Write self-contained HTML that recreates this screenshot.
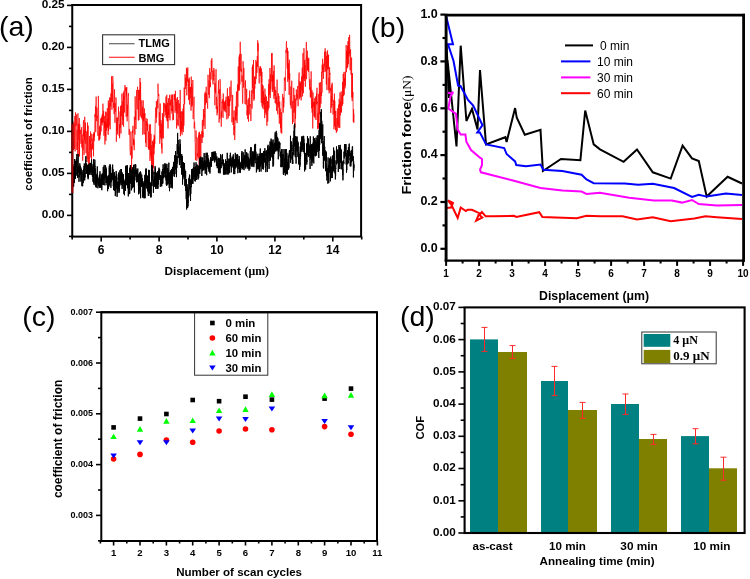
<!DOCTYPE html>
<html><head><meta charset="utf-8"><style>
html,body{margin:0;padding:0;background:#fff;}
svg{display:block;will-change:transform;}
</style></head><body>
<svg width="750" height="579" viewBox="0 0 750 579">
<rect width="750" height="579" fill="#fff"/>
<polyline points="72.5,193 72.50,138.1 72.70,132.8 72.90,121.1 73.10,122.4 73.30,150.0 73.50,133.4 73.70,134.4 73.90,134.0 74.10,122.8 74.30,132.8 74.50,149.0 74.70,147.3 74.90,116.0 75.10,151.4 75.30,124.9 75.50,112.4 75.70,114.8 75.90,118.3 76.10,126.0 76.30,114.5 76.50,115.6 76.70,125.9 76.90,150.0 77.10,129.9 77.31,146.7 77.51,142.1 77.71,155.7 77.91,113.3 78.11,140.2 78.31,123.6 78.51,129.8 78.71,128.9 78.91,156.9 79.11,129.5 79.31,118.0 79.51,156.1 79.71,124.3 79.91,131.8 80.11,134.0 80.31,129.8 80.51,131.7 80.71,142.2 80.91,143.5 81.11,143.9 81.31,135.8 81.51,131.1 81.71,127.2 81.91,147.6 82.11,134.5 82.31,146.2 82.51,147.6 82.71,160.7 82.91,139.8 83.11,150.0 83.31,123.8 83.51,120.2 83.71,136.2 83.91,131.5 84.11,154.8 84.31,129.9 84.51,139.9 84.71,116.8 84.91,126.1 85.11,138.4 85.31,143.6 85.51,122.6 85.71,139.0 85.91,151.9 86.11,153.2 86.31,144.7 86.51,137.5 86.72,131.2 86.92,156.2 87.12,161.9 87.32,142.0 87.52,122.5 87.72,147.3 87.92,159.1 88.12,125.7 88.32,158.5 88.52,170.5 88.72,158.0 88.92,158.7 89.12,151.8 89.32,164.3 89.52,136.0 89.72,143.4 89.92,151.6 90.12,140.1 90.32,149.4 90.52,131.5 90.72,155.7 90.92,157.4 91.12,144.3 91.32,146.4 91.52,164.7 91.72,133.7 91.92,141.5 92.12,138.5 92.32,148.4 92.52,142.2 92.72,149.5 92.92,145.3 93.12,134.7 93.32,134.1 93.52,156.3 93.72,140.7 93.92,132.3 94.12,141.2 94.32,132.7 94.52,136.6 94.72,128.3 94.92,114.3 95.12,116.9 95.32,115.6 95.52,106.1 95.72,132.2 95.92,106.5 96.13,96.7 96.33,106.7 96.53,106.8 96.73,121.2 96.93,107.6 97.13,118.0 97.33,115.8 97.53,123.9 97.73,129.4 97.93,135.9 98.13,121.0 98.33,95.9 98.53,105.0 98.73,116.4 98.93,140.7 99.13,132.2 99.33,140.0 99.53,126.6 99.73,133.5 99.93,138.9 100.13,125.5 100.33,135.2 100.53,130.5 100.73,118.5 100.93,127.7 101.13,131.3 101.33,117.9 101.53,123.1 101.73,116.5 101.93,117.9 102.13,125.4 102.33,113.9 102.53,122.9 102.73,115.0 102.93,103.7 103.13,115.6 103.33,122.4 103.53,110.9 103.73,111.7 103.93,135.7 104.13,128.0 104.33,115.9 104.53,127.6 104.73,121.2 104.93,144.5 105.13,121.7 105.33,126.7 105.54,136.3 105.74,111.6 105.94,140.8 106.14,112.3 106.34,130.6 106.54,126.1 106.74,123.5 106.94,127.1 107.14,120.9 107.34,108.2 107.54,127.7 107.74,118.8 107.94,126.5 108.14,134.8 108.34,100.5 108.54,130.9 108.74,128.0 108.94,103.3 109.14,125.8 109.34,121.2 109.54,98.2 109.74,97.4 109.94,102.4 110.14,129.2 110.34,111.7 110.54,98.1 110.74,106.4 110.94,93.4 111.14,101.6 111.34,97.5 111.54,76.3 111.74,98.5 111.94,109.7 112.14,87.6 112.34,83.5 112.54,102.0 112.74,76.1 112.94,80.9 113.14,81.0 113.34,99.6 113.54,107.6 113.74,102.7 113.94,105.8 114.14,114.1 114.34,107.1 114.54,89.4 114.75,105.7 114.95,122.8 115.15,103.2 115.35,111.5 115.55,111.6 115.75,107.8 115.95,97.4 116.15,101.2 116.35,141.7 116.55,125.6 116.75,117.9 116.95,120.2 117.15,130.8 117.35,117.4 117.55,134.4 117.75,120.1 117.95,120.7 118.15,120.0 118.35,114.9 118.55,106.7 118.75,123.1 118.95,126.5 119.15,135.9 119.35,124.3 119.55,138.2 119.75,134.7 119.95,114.6 120.15,111.4 120.35,127.5 120.55,106.1 120.75,126.0 120.95,133.5 121.15,108.7 121.35,104.9 121.55,110.2 121.75,116.3 121.95,93.6 122.15,125.1 122.35,124.7 122.55,121.7 122.75,101.1 122.95,116.9 123.15,119.7 123.35,92.5 123.55,126.7 123.75,95.9 123.95,100.1 124.16,90.6 124.36,102.5 124.56,112.5 124.76,98.3 124.96,85.1 125.16,91.0 125.36,88.6 125.56,87.5 125.76,90.2 125.96,100.2 126.16,116.8 126.36,87.9 126.56,96.4 126.76,87.0 126.96,105.6 127.16,121.3 127.36,104.7 127.56,116.2 127.76,104.1 127.96,96.5 128.16,96.3 128.36,93.1 128.56,104.1 128.76,110.9 128.96,133.7 129.16,134.9 129.36,129.0 129.56,129.5 129.76,133.2 129.96,148.2 130.16,151.3 130.36,155.3 130.56,152.0 130.76,143.4 130.96,131.5 131.16,142.2 131.36,145.3 131.56,173.0 131.76,146.2 131.96,158.7 132.16,157.2 132.36,140.2 132.56,130.3 132.76,133.0 132.96,125.8 133.16,138.5 133.36,144.7 133.57,138.7 133.77,145.4 133.97,139.9 134.17,150.2 134.37,116.7 134.57,122.6 134.77,128.6 134.97,134.6 135.17,96.4 135.37,110.0 135.57,119.9 135.77,110.7 135.97,129.0 136.17,114.0 136.37,102.0 136.57,90.8 136.77,90.0 136.97,102.2 137.17,109.5 137.37,91.9 137.57,86.8 137.77,89.8 137.97,93.3 138.17,113.9 138.37,120.5 138.57,90.0 138.77,109.6 138.97,119.9 139.17,114.3 139.37,96.7 139.57,89.7 139.77,100.2 139.97,78.0 140.17,106.1 140.37,116.3 140.57,82.2 140.77,104.6 140.97,104.6 141.17,113.5 141.37,118.0 141.57,114.6 141.77,100.3 141.97,105.8 142.17,119.5 142.37,106.9 142.57,110.2 142.77,134.7 142.98,119.0 143.18,100.4 143.38,108.7 143.58,121.4 143.78,113.2 143.98,131.6 144.18,134.1 144.38,108.4 144.58,118.2 144.78,117.0 144.98,113.3 145.18,134.5 145.38,133.2 145.58,142.8 145.78,121.2 145.98,118.1 146.18,147.0 146.38,121.4 146.58,123.1 146.78,125.1 146.98,125.5 147.18,118.9 147.38,130.9 147.58,124.3 147.78,123.6 147.98,141.5 148.18,147.3 148.38,148.4 148.58,131.6 148.78,149.5 148.98,146.0 149.18,149.9 149.38,124.6 149.58,149.0 149.78,139.0 149.98,161.0 150.18,146.5 150.38,124.2 150.58,124.8 150.78,155.8 150.98,133.9 151.18,158.5 151.38,145.4 151.58,167.8 151.78,152.1 151.98,166.1 152.18,161.1 152.39,140.8 152.59,150.8 152.79,174.2 152.99,159.2 153.19,142.0 153.39,164.0 153.59,168.3 153.79,139.3 153.99,154.2 154.19,134.7 154.39,147.3 154.59,136.2 154.79,144.1 154.99,135.9 155.19,119.4 155.39,118.4 155.59,107.6 155.79,109.8 155.99,111.0 156.19,122.9 156.39,100.9 156.59,117.7 156.79,115.0 156.99,110.9 157.19,101.8 157.39,101.9 157.59,99.4 157.79,108.3 157.99,83.6 158.19,92.6 158.39,93.1 158.59,96.1 158.79,94.1 158.99,99.9 159.19,125.6 159.39,112.2 159.59,131.0 159.79,143.7 159.99,137.7 160.19,103.5 160.39,133.4 160.59,130.1 160.79,137.6 160.99,120.2 161.19,139.4 161.39,123.7 161.59,148.4 161.80,143.3 162.00,153.5 162.20,133.7 162.40,113.2 162.60,133.8 162.80,137.8 163.00,116.9 163.20,138.5 163.40,126.5 163.60,102.8 163.80,113.0 164.00,116.8 164.20,109.8 164.40,108.3 164.60,103.3 164.80,106.0 165.00,110.7 165.20,111.7 165.40,104.7 165.60,107.6 165.80,115.2 166.00,96.5 166.20,117.9 166.40,105.2 166.60,118.2 166.80,94.8 167.00,120.8 167.20,116.5 167.40,102.6 167.60,121.3 167.80,111.9 168.00,128.5 168.20,112.2 168.40,98.2 168.60,114.7 168.80,108.9 169.00,117.9 169.20,103.2 169.40,105.1 169.60,94.8 169.80,108.5 170.00,120.4 170.20,105.9 170.40,102.4 170.60,104.3 170.80,99.5 171.00,106.4 171.21,94.6 171.41,110.7 171.61,110.6 171.81,107.9 172.01,113.7 172.21,95.4 172.41,111.2 172.61,94.5 172.81,120.3 173.01,119.4 173.21,114.0 173.41,119.7 173.61,105.9 173.81,104.5 174.01,100.6 174.21,94.0 174.41,100.0 174.61,94.1 174.81,95.1 175.01,112.8 175.21,101.8 175.41,90.8 175.61,105.4 175.81,104.8 176.01,110.8 176.21,98.6 176.41,121.8 176.61,128.5 176.81,101.9 177.01,113.6 177.21,113.0 177.41,97.0 177.61,109.1 177.81,125.0 178.01,119.1 178.21,126.2 178.41,100.1 178.61,101.7 178.81,114.8 179.01,118.6 179.21,108.9 179.41,103.6 179.61,111.4 179.81,114.5 180.01,129.4 180.21,90.0 180.42,136.2 180.62,118.7 180.82,112.0 181.02,132.2 181.22,111.1 181.42,130.6 181.62,121.1 181.82,134.0 182.02,134.0 182.22,134.6 182.42,111.5 182.62,122.6 182.82,129.2 183.02,108.6 183.22,132.1 183.42,120.3 183.62,104.2 183.82,125.8 184.02,121.2 184.22,87.5 184.42,101.7 184.62,104.3 184.82,96.1 185.02,74.3 185.22,76.6 185.42,89.0 185.62,77.9 185.82,83.1 186.02,81.3 186.22,85.7 186.42,67.8 186.62,70.2 186.82,95.4 187.02,69.2 187.22,79.2 187.42,81.2 187.62,75.3 187.82,67.4 188.02,82.0 188.22,80.1 188.42,86.2 188.62,100.1 188.82,79.1 189.02,91.6 189.22,77.6 189.42,89.0 189.62,104.5 189.83,91.7 190.03,87.2 190.23,98.3 190.43,87.2 190.63,92.7 190.83,87.0 191.03,110.7 191.23,76.6 191.43,88.0 191.63,83.9 191.83,106.7 192.03,87.1 192.23,105.4 192.43,95.9 192.63,94.4 192.83,80.0 193.03,116.3 193.23,119.0 193.43,114.5 193.63,107.3 193.83,106.8 194.03,96.8 194.23,128.4 194.43,123.4 194.63,121.8 194.83,127.7 195.03,141.3 195.23,144.4 195.43,160.2 195.63,156.9 195.83,141.7 196.03,130.5 196.23,138.2 196.43,137.0 196.63,156.6 196.83,160.8 197.03,158.3 197.23,153.7 197.43,153.1 197.63,156.3 197.83,137.8 198.03,145.4 198.23,158.4 198.43,157.7 198.63,135.4 198.83,137.9 199.03,132.6 199.24,166.8 199.44,131.8 199.64,149.8 199.84,163.9 200.04,155.4 200.24,151.7 200.44,134.2 200.64,151.8 200.84,163.7 201.04,144.2 201.24,142.6 201.44,134.4 201.64,133.7 201.84,131.3 202.04,143.0 202.24,122.7 202.44,119.9 202.64,137.5 202.84,131.6 203.04,137.4 203.24,123.3 203.44,109.0 203.64,125.8 203.84,125.6 204.04,121.1 204.24,114.4 204.44,117.4 204.64,107.1 204.84,93.5 205.04,129.0 205.24,91.9 205.44,104.4 205.64,104.8 205.84,96.7 206.04,92.6 206.24,86.8 206.44,102.8 206.64,93.3 206.84,96.4 207.04,100.7 207.24,101.4 207.44,102.1 207.64,108.6 207.84,95.0 208.04,74.8 208.24,90.5 208.44,92.6 208.65,94.7 208.85,89.4 209.05,80.4 209.25,98.1 209.45,95.4 209.65,68.2 209.85,87.4 210.05,84.6 210.25,82.8 210.45,86.8 210.65,73.6 210.85,72.1 211.05,79.5 211.25,60.3 211.45,66.2 211.65,72.0 211.85,58.2 212.05,70.4 212.25,71.1 212.45,71.1 212.65,81.1 212.85,81.7 213.05,84.4 213.25,70.4 213.45,76.1 213.65,80.4 213.85,67.9 214.05,71.1 214.25,70.8 214.45,75.5 214.65,75.0 214.85,105.2 215.05,83.1 215.25,91.5 215.45,87.9 215.65,93.4 215.85,80.5 216.05,69.2 216.25,109.1 216.45,96.9 216.65,97.1 216.85,100.2 217.05,115.3 217.25,106.2 217.45,112.7 217.65,111.1 217.85,96.2 218.06,93.6 218.26,89.5 218.46,80.4 218.66,93.4 218.86,90.7 219.06,122.6 219.26,117.8 219.46,111.5 219.66,89.1 219.86,118.9 220.06,79.1 220.26,85.4 220.46,93.7 220.66,93.6 220.86,99.3 221.06,104.1 221.26,126.7 221.46,111.4 221.66,116.8 221.86,113.3 222.06,101.9 222.26,103.0 222.46,99.3 222.66,105.6 222.86,112.8 223.06,117.9 223.26,93.5 223.46,101.5 223.66,108.9 223.86,100.8 224.06,110.6 224.26,107.8 224.46,105.2 224.66,101.9 224.86,111.4 225.06,103.0 225.26,109.3 225.46,100.0 225.66,104.3 225.86,112.3 226.06,96.7 226.26,104.7 226.46,116.8 226.66,117.3 226.86,119.3 227.06,116.1 227.26,91.1 227.47,88.3 227.67,106.1 227.87,97.3 228.07,118.3 228.27,116.8 228.47,96.0 228.67,106.3 228.87,97.6 229.07,116.0 229.27,111.4 229.47,99.6 229.67,105.8 229.87,86.8 230.07,101.3 230.27,100.9 230.47,95.1 230.67,96.3 230.87,87.2 231.07,80.6 231.27,90.9 231.47,94.3 231.67,98.6 231.87,122.2 232.07,119.5 232.27,112.5 232.47,102.4 232.67,94.9 232.87,114.2 233.07,125.0 233.27,117.6 233.47,121.5 233.67,117.3 233.87,135.1 234.07,110.5 234.27,130.2 234.47,126.4 234.67,139.9 234.87,138.0 235.07,127.0 235.27,119.4 235.47,106.5 235.67,119.8 235.87,113.5 236.07,120.7 236.27,101.0 236.47,91.6 236.67,115.4 236.88,107.0 237.08,123.1 237.28,102.8 237.48,84.5 237.68,100.6 237.88,107.0 238.08,89.1 238.28,66.5 238.48,90.8 238.68,84.2 238.88,89.2 239.08,56.7 239.28,90.5 239.48,54.3 239.68,74.0 239.88,84.5 240.08,44.8 240.28,41.8 240.48,50.8 240.68,70.6 240.88,70.7 241.08,53.9 241.28,71.8 241.48,69.1 241.68,73.7 241.88,81.8 242.08,75.4 242.28,88.4 242.48,94.7 242.68,103.6 242.88,91.8 243.08,61.2 243.28,72.6 243.48,87.5 243.68,83.6 243.88,68.0 244.08,80.8 244.28,82.5 244.48,83.2 244.68,84.0 244.88,95.8 245.08,104.0 245.28,94.8 245.48,80.4 245.68,89.1 245.88,90.4 246.08,104.7 246.29,105.0 246.49,101.1 246.69,88.9 246.89,115.3 247.09,111.4 247.29,112.3 247.49,105.1 247.69,119.1 247.89,100.5 248.09,99.5 248.29,107.1 248.49,121.7 248.69,107.5 248.89,97.9 249.09,110.3 249.29,114.5 249.49,104.2 249.69,90.6 249.89,106.7 250.09,104.0 250.29,106.1 250.49,110.2 250.69,120.0 250.89,121.0 251.09,119.9 251.29,108.7 251.49,95.0 251.69,95.4 251.89,90.1 252.09,108.6 252.29,67.0 252.49,87.8 252.69,64.7 252.89,83.0 253.09,93.5 253.29,77.3 253.49,60.0 253.69,91.4 253.89,100.7 254.09,87.5 254.29,99.0 254.49,77.0 254.69,88.0 254.89,88.5 255.09,76.2 255.29,78.1 255.50,84.0 255.70,80.9 255.90,60.0 256.10,78.9 256.30,76.3 256.50,61.9 256.70,70.9 256.90,72.9 257.10,71.2 257.30,56.2 257.50,66.8 257.70,40.4 257.90,51.3 258.10,43.2 258.30,44.1 258.50,67.7 258.70,69.0 258.90,74.0 259.10,83.4 259.30,83.3 259.50,68.4 259.70,72.9 259.90,73.1 260.10,66.1 260.30,75.9 260.50,68.0 260.70,66.8 260.90,77.1 261.10,82.5 261.30,102.9 261.50,68.6 261.70,82.9 261.90,71.9 262.10,106.5 262.30,84.2 262.50,90.7 262.70,107.7 262.90,108.5 263.10,85.7 263.30,102.5 263.50,91.3 263.70,104.5 263.90,101.3 264.10,109.5 264.30,101.8 264.50,97.5 264.70,118.1 264.91,88.6 265.11,105.9 265.31,94.5 265.51,112.6 265.71,105.7 265.91,110.6 266.11,114.9 266.31,111.2 266.51,96.6 266.71,120.1 266.91,125.8 267.11,111.7 267.31,101.2 267.51,102.1 267.71,121.6 267.91,101.6 268.11,110.4 268.31,102.1 268.51,96.2 268.71,84.1 268.91,108.2 269.11,79.3 269.31,95.1 269.51,88.1 269.71,86.8 269.91,68.0 270.11,72.0 270.31,97.9 270.51,74.4 270.71,89.4 270.91,86.9 271.11,82.2 271.31,79.2 271.51,53.3 271.71,63.5 271.91,81.5 272.11,53.0 272.31,92.0 272.51,75.4 272.71,79.4 272.91,75.0 273.11,90.0 273.31,76.9 273.51,80.6 273.71,70.9 273.91,98.8 274.11,65.4 274.32,92.3 274.52,90.5 274.72,96.0 274.92,86.8 275.12,103.0 275.32,101.9 275.52,91.9 275.72,90.1 275.92,91.5 276.12,104.2 276.32,96.7 276.52,110.9 276.72,106.7 276.92,93.4 277.12,79.6 277.32,98.0 277.52,103.8 277.72,114.3 277.92,102.8 278.12,104.5 278.32,93.4 278.52,104.6 278.72,107.4 278.92,95.9 279.12,113.8 279.32,123.7 279.52,110.9 279.72,101.6 279.92,118.0 280.12,111.2 280.32,108.6 280.52,128.2 280.72,117.7 280.92,132.6 281.12,130.1 281.32,112.0 281.52,125.0 281.72,133.6 281.92,119.0 282.12,101.8 282.32,101.1 282.52,95.1 282.72,93.9 282.92,95.2 283.12,112.1 283.32,112.6 283.52,97.3 283.73,107.3 283.93,103.5 284.13,103.1 284.33,78.1 284.53,78.7 284.73,80.4 284.93,77.2 285.13,81.9 285.33,90.9 285.53,70.4 285.73,70.0 285.93,50.3 286.13,52.6 286.33,42.6 286.53,41.2 286.73,53.7 286.93,54.2 287.13,62.1 287.33,68.3 287.53,47.9 287.73,81.8 287.93,50.9 288.13,71.1 288.33,79.1 288.53,63.3 288.73,76.6 288.93,77.2 289.13,94.9 289.33,59.7 289.53,80.1 289.73,73.5 289.93,91.2 290.13,99.7 290.33,104.2 290.53,105.4 290.73,95.4 290.93,86.4 291.13,108.5 291.33,101.0 291.53,90.5 291.73,80.7 291.93,88.2 292.13,107.9 292.33,118.3 292.53,124.1 292.73,100.9 292.93,110.8 293.14,122.3 293.34,111.6 293.54,111.9 293.74,87.8 293.94,104.4 294.14,112.7 294.34,108.5 294.54,106.2 294.74,94.9 294.94,127.8 295.14,117.2 295.34,98.7 295.54,118.8 295.74,108.4 295.94,107.6 296.14,102.3 296.34,89.5 296.54,95.1 296.74,100.1 296.94,99.7 297.14,94.4 297.34,96.2 297.54,97.8 297.74,86.0 297.94,100.5 298.14,106.2 298.34,89.5 298.54,84.5 298.74,79.5 298.94,76.0 299.14,72.5 299.34,99.2 299.54,88.0 299.74,81.3 299.94,97.4 300.14,95.0 300.34,83.0 300.54,97.1 300.74,83.7 300.94,81.6 301.14,100.4 301.34,91.8 301.54,76.6 301.74,84.1 301.94,90.8 302.14,69.5 302.34,67.6 302.55,96.4 302.75,68.9 302.95,53.1 303.15,69.0 303.35,93.2 303.55,74.5 303.75,78.4 303.95,48.2 304.15,68.2 304.35,78.2 304.55,60.3 304.75,81.0 304.95,65.1 305.15,72.6 305.35,86.7 305.55,61.6 305.75,59.9 305.95,60.4 306.15,56.8 306.35,42.0 306.55,79.2 306.75,70.4 306.95,56.4 307.15,58.7 307.35,50.7 307.55,69.8 307.75,59.3 307.95,70.6 308.15,58.4 308.35,70.2 308.55,72.0 308.75,57.8 308.95,68.7 309.15,76.6 309.35,81.7 309.55,86.3 309.75,89.6 309.95,79.3 310.15,86.2 310.35,97.3 310.55,87.3 310.75,90.3 310.95,97.4 311.15,71.4 311.35,99.1 311.55,108.3 311.75,105.3 311.96,90.1 312.16,112.7 312.36,98.5 312.56,110.9 312.76,128.4 312.96,92.5 313.16,100.9 313.36,107.0 313.56,102.3 313.76,102.3 313.96,116.4 314.16,101.8 314.36,104.1 314.56,116.4 314.76,98.2 314.96,118.1 315.16,108.8 315.36,96.6 315.56,98.0 315.76,110.3 315.96,120.0 316.16,102.9 316.36,101.4 316.56,93.5 316.76,104.5 316.96,87.8 317.16,103.3 317.36,101.8 317.56,128.7 317.76,128.4 317.96,113.2 318.16,129.3 318.36,125.4 318.56,111.9 318.76,93.9 318.96,127.7 319.16,116.2 319.36,82.8 319.56,114.2 319.76,108.7 319.96,91.5 320.16,107.6 320.36,82.1 320.56,94.2 320.76,95.1 320.96,103.6 321.17,96.6 321.37,92.3 321.57,96.1 321.77,71.8 321.97,92.7 322.17,64.8 322.37,72.4 322.57,58.8 322.77,63.8 322.97,68.8 323.17,66.8 323.37,78.8 323.57,76.1 323.77,63.7 323.97,72.0 324.17,69.3 324.37,63.3 324.57,51.9 324.77,66.5 324.97,53.4 325.17,48.3 325.37,61.1 325.57,71.5 325.77,69.6 325.97,51.5 326.17,65.5 326.37,84.6 326.57,55.9 326.77,60.5 326.97,90.1 327.17,65.9 327.37,56.6 327.57,50.4 327.77,69.6 327.97,54.6 328.17,69.1 328.37,60.8 328.57,54.9 328.77,90.2 328.97,77.6 329.17,93.3 329.37,84.4 329.57,67.2 329.77,74.5 329.97,73.0 330.17,89.5 330.37,91.3 330.58,87.8 330.78,112.9 330.98,103.6 331.18,102.9 331.38,95.9 331.58,107.7 331.78,84.6 331.98,102.3 332.18,82.8 332.38,104.8 332.58,104.0 332.78,107.1 332.98,114.5 333.18,112.5 333.38,110.3 333.58,101.1 333.78,99.8 333.98,129.3 334.18,119.9 334.38,93.6 334.58,126.3 334.78,100.8 334.98,113.5 335.18,110.9 335.38,116.2 335.58,130.1 335.78,111.2 335.98,129.9 336.18,130.3 336.38,132.8 336.58,127.2 336.78,120.3 336.98,118.0 337.18,131.3 337.38,108.4 337.58,122.4 337.78,124.9 337.98,120.3 338.18,127.6 338.38,123.9 338.58,104.7 338.78,111.6 338.98,127.4 339.18,98.9 339.38,106.0 339.58,103.8 339.78,128.1 339.99,92.5 340.19,100.6 340.39,115.3 340.59,101.4 340.79,111.7 340.99,107.0 341.19,91.4 341.39,109.8 341.59,112.5 341.79,95.7 341.99,95.4 342.19,96.0 342.39,105.7 342.59,81.9 342.79,104.0 342.99,90.2 343.19,73.9 343.39,78.3 343.59,96.1 343.79,83.6 343.99,71.9 344.19,94.7 344.39,78.0 344.59,80.3 344.79,79.3 344.99,88.4 345.19,71.9 345.39,85.8 345.59,73.6 345.79,70.9 345.99,58.7 346.19,45.0 346.39,72.1 346.59,50.7 346.79,58.5 346.99,56.0 347.19,50.7 347.39,68.2 347.59,45.9 347.79,66.8 347.99,41.2 348.19,60.0 348.39,64.1 348.59,44.6 348.79,37.0 348.99,56.4 349.19,50.9 349.40,53.8 349.60,34.8 349.80,43.6 350.00,62.8 350.20,70.3 350.40,51.1 350.60,49.3 350.80,65.6 351.00,74.7 351.20,73.8 351.40,68.1 351.60,57.6 351.80,97.4 352.00,73.0 352.20,101.1 352.40,73.6 352.60,97.7 352.80,91.9 353.00,92.8 353.20,121.2 353.40,121.9 353.60,109.1 353.80,122.8 354.00,113.8" fill="none" stroke="#ff0000" stroke-width="0.7"/>
<polyline points="72.50,177.8 72.60,179.3 72.70,166.1 72.80,167.3 72.90,164.3 73.00,171.0 73.10,174.4 73.20,166.4 73.30,182.5 73.40,171.9 73.50,177.2 73.60,186.8 73.70,184.7 73.80,172.8 73.90,174.4 74.00,171.0 74.10,171.5 74.20,170.8 74.30,167.3 74.40,173.1 74.50,182.8 74.60,175.4 74.70,159.0 74.80,171.3 74.90,165.5 75.00,165.6 75.10,161.6 75.20,169.8 75.30,176.2 75.40,169.8 75.50,178.9 75.60,171.2 75.70,171.2 75.80,160.8 75.90,164.1 76.00,166.1 76.10,172.7 76.20,175.6 76.30,168.7 76.40,160.3 76.50,158.3 76.60,158.8 76.70,162.4 76.80,167.0 76.90,154.1 77.00,161.9 77.10,160.5 77.20,171.9 77.30,174.2 77.40,170.7 77.50,168.1 77.60,177.9 77.70,167.3 77.80,172.7 77.90,161.0 78.00,160.4 78.10,154.2 78.20,154.2 78.30,167.5 78.40,166.1 78.50,172.7 78.60,172.0 78.70,167.5 78.80,174.8 78.90,177.9 79.00,181.8 79.10,174.5 79.20,177.3 79.30,173.3 79.40,169.6 79.50,174.3 79.60,167.0 79.70,171.8 79.80,163.3 79.90,167.7 80.00,170.9 80.10,165.6 80.20,174.5 80.30,169.4 80.40,168.3 80.50,170.0 80.60,172.3 80.70,171.7 80.80,167.3 80.90,181.6 81.00,171.8 81.10,173.1 81.20,168.8 81.30,170.2 81.40,179.7 81.50,174.5 81.60,176.7 81.70,177.8 81.80,177.7 81.90,171.6 82.00,186.1 82.10,180.3 82.20,179.6 82.30,186.1 82.40,181.7 82.50,186.1 82.60,185.1 82.70,186.1 82.80,180.5 82.90,181.6 83.00,170.1 83.10,178.1 83.20,183.1 83.30,179.2 83.40,173.8 83.50,177.5 83.60,180.6 83.70,180.6 83.80,176.7 83.90,168.9 84.00,173.0 84.10,165.8 84.20,178.4 84.30,163.4 84.40,165.7 84.50,172.8 84.60,174.6 84.70,180.4 84.80,172.3 84.90,174.2 85.00,177.5 85.10,170.3 85.20,165.2 85.30,165.3 85.40,166.1 85.50,167.0 85.60,159.9 85.70,161.4 85.80,161.6 85.90,156.2 86.00,173.8 86.10,165.5 86.20,166.1 86.30,170.0 86.40,163.4 86.50,173.5 86.61,167.3 86.71,168.3 86.81,168.6 86.91,173.1 87.01,170.5 87.11,172.2 87.21,164.7 87.31,172.7 87.41,165.8 87.51,165.6 87.61,168.3 87.71,176.7 87.81,170.3 87.91,167.1 88.01,178.1 88.11,179.3 88.21,173.3 88.31,169.4 88.41,177.8 88.51,165.2 88.61,164.5 88.71,173.3 88.81,171.7 88.91,170.0 89.01,172.0 89.11,164.4 89.21,163.9 89.31,169.2 89.41,163.2 89.51,163.9 89.61,174.4 89.71,166.7 89.81,171.2 89.91,173.3 90.01,174.9 90.11,174.2 90.21,166.2 90.31,171.5 90.41,168.3 90.51,171.3 90.61,162.9 90.71,172.9 90.81,172.9 90.91,170.1 91.01,167.3 91.11,169.8 91.21,171.6 91.31,166.7 91.41,167.9 91.51,159.5 91.61,161.2 91.71,167.0 91.81,175.0 91.91,173.2 92.01,164.2 92.11,168.8 92.21,166.8 92.31,168.7 92.41,176.5 92.51,169.6 92.61,167.7 92.71,171.8 92.81,169.9 92.91,181.0 93.01,181.8 93.11,168.3 93.21,171.5 93.31,171.1 93.41,168.5 93.51,161.0 93.61,159.1 93.71,183.1 93.81,168.1 93.91,167.0 94.01,184.7 94.11,180.9 94.21,169.9 94.31,162.7 94.41,169.9 94.51,164.4 94.61,172.4 94.71,164.9 94.81,159.6 94.91,161.7 95.01,166.7 95.11,166.0 95.21,185.3 95.31,168.6 95.41,182.5 95.51,179.9 95.61,173.4 95.71,177.5 95.81,187.2 95.91,181.3 96.01,178.3 96.11,180.2 96.21,179.0 96.31,178.5 96.41,187.5 96.51,180.1 96.61,176.9 96.71,182.2 96.81,175.3 96.91,180.9 97.01,173.9 97.11,176.8 97.21,170.3 97.31,166.4 97.41,181.9 97.51,180.8 97.61,181.5 97.71,176.5 97.81,179.4 97.91,188.3 98.01,178.1 98.11,181.6 98.21,183.8 98.31,182.4 98.41,184.8 98.51,181.8 98.61,185.9 98.71,183.1 98.81,182.9 98.91,182.8 99.01,186.3 99.11,177.7 99.21,182.4 99.31,185.2 99.41,174.7 99.51,185.1 99.61,178.5 99.71,188.0 99.81,177.0 99.91,172.1 100.01,171.3 100.11,180.0 100.21,182.6 100.31,184.1 100.41,182.0 100.51,187.2 100.61,182.6 100.71,184.9 100.81,181.3 100.91,178.2 101.01,188.0 101.11,178.8 101.21,174.4 101.31,183.2 101.41,182.9 101.51,181.3 101.61,182.5 101.71,175.5 101.81,190.2 101.91,182.6 102.01,176.9 102.11,184.9 102.21,178.7 102.31,173.4 102.41,184.4 102.51,175.0 102.61,179.9 102.71,180.3 102.81,180.5 102.91,176.9 103.01,177.3 103.11,174.3 103.21,168.2 103.31,166.8 103.41,176.5 103.51,172.7 103.61,171.5 103.71,185.1 103.81,169.8 103.91,179.6 104.01,176.3 104.11,165.5 104.21,164.9 104.31,176.5 104.41,173.0 104.51,171.9 104.61,172.1 104.71,173.2 104.81,177.9 104.91,185.4 105.01,169.3 105.11,177.7 105.21,177.2 105.31,168.5 105.41,172.6 105.51,165.2 105.61,169.4 105.71,166.7 105.81,175.0 105.91,167.7 106.01,180.2 106.11,182.9 106.21,174.5 106.31,179.5 106.41,168.8 106.51,177.6 106.61,183.0 106.71,177.8 106.81,179.2 106.91,175.6 107.01,185.2 107.11,182.4 107.21,180.9 107.31,178.8 107.41,181.0 107.51,178.0 107.61,191.2 107.71,187.0 107.81,182.0 107.91,176.3 108.01,179.9 108.11,183.7 108.21,181.3 108.31,181.2 108.41,189.0 108.51,178.7 108.61,177.1 108.71,175.1 108.81,186.9 108.91,176.8 109.01,183.1 109.11,168.7 109.21,169.1 109.31,165.8 109.41,175.4 109.51,184.9 109.61,177.9 109.71,177.4 109.81,185.5 109.91,180.9 110.01,164.1 110.11,177.3 110.21,168.7 110.31,182.5 110.41,168.8 110.51,165.1 110.61,167.0 110.71,168.0 110.81,167.9 110.91,187.8 111.01,176.3 111.11,177.2 111.21,180.2 111.31,173.4 111.41,182.1 111.51,176.7 111.61,173.1 111.71,175.5 111.81,175.8 111.91,179.3 112.01,175.1 112.11,175.8 112.21,179.2 112.31,177.0 112.41,171.8 112.51,175.7 112.61,164.6 112.71,167.1 112.81,173.5 112.91,180.3 113.01,169.2 113.11,173.2 113.21,176.4 113.31,186.2 113.41,178.9 113.51,178.5 113.61,185.9 113.71,190.1 113.81,186.2 113.91,188.1 114.01,184.5 114.11,173.5 114.21,185.8 114.31,172.1 114.41,190.7 114.51,180.1 114.61,179.9 114.71,181.8 114.82,180.8 114.92,190.5 115.02,179.3 115.12,181.7 115.22,183.7 115.32,196.1 115.42,180.5 115.52,194.1 115.62,188.5 115.72,179.5 115.82,175.8 115.92,183.1 116.02,185.6 116.12,171.0 116.22,171.4 116.32,176.6 116.42,181.8 116.52,179.3 116.62,186.8 116.72,174.4 116.82,184.0 116.92,188.7 117.02,187.2 117.12,196.9 117.22,185.7 117.32,190.9 117.42,192.9 117.52,183.6 117.62,182.3 117.72,192.0 117.82,183.5 117.92,188.3 118.02,181.4 118.12,189.2 118.22,177.3 118.32,180.0 118.42,178.8 118.52,172.6 118.62,178.5 118.72,177.7 118.82,178.8 118.92,183.9 119.02,192.9 119.12,187.6 119.22,191.3 119.32,182.2 119.42,184.2 119.52,186.8 119.62,185.3 119.72,183.5 119.82,170.4 119.92,184.1 120.02,185.3 120.12,174.3 120.22,183.3 120.32,181.8 120.42,177.4 120.52,178.6 120.62,175.1 120.72,179.0 120.82,176.8 120.92,169.0 121.02,176.1 121.12,176.4 121.22,174.6 121.32,170.6 121.42,169.3 121.52,179.4 121.62,176.7 121.72,185.0 121.82,172.4 121.92,175.3 122.02,172.5 122.12,188.9 122.22,174.4 122.32,179.6 122.42,178.2 122.52,175.0 122.62,176.8 122.72,182.6 122.82,177.4 122.92,186.3 123.02,174.0 123.12,176.3 123.22,183.7 123.32,174.5 123.42,179.1 123.52,178.6 123.62,181.3 123.72,180.1 123.82,186.0 123.92,194.0 124.02,185.8 124.12,185.2 124.22,190.5 124.32,185.0 124.42,195.3 124.52,181.1 124.62,185.6 124.72,181.5 124.82,190.5 124.92,181.2 125.02,186.1 125.12,186.7 125.22,179.6 125.32,182.6 125.42,178.6 125.52,190.7 125.62,185.3 125.72,166.0 125.82,176.2 125.92,170.9 126.02,178.1 126.12,177.5 126.22,165.4 126.32,185.2 126.42,171.0 126.52,172.0 126.62,173.1 126.72,175.5 126.82,175.8 126.92,166.3 127.02,171.0 127.12,179.8 127.22,176.5 127.32,180.7 127.42,165.3 127.52,173.4 127.62,188.3 127.72,177.8 127.82,175.6 127.92,180.2 128.02,178.1 128.12,182.2 128.22,184.2 128.32,196.4 128.42,179.8 128.52,173.1 128.62,182.2 128.72,184.2 128.82,190.7 128.92,185.3 129.02,194.2 129.12,189.1 129.22,177.4 129.32,173.1 129.42,184.3 129.52,168.4 129.62,180.8 129.72,193.7 129.82,181.4 129.92,170.4 130.02,174.8 130.12,167.4 130.22,183.6 130.32,165.3 130.42,183.0 130.52,173.4 130.62,165.0 130.72,176.5 130.82,181.9 130.92,172.9 131.02,178.9 131.12,183.5 131.22,172.4 131.32,189.1 131.42,190.3 131.52,169.8 131.62,185.3 131.72,174.0 131.82,172.6 131.92,177.0 132.02,181.6 132.12,173.0 132.22,183.2 132.32,168.6 132.42,167.3 132.52,188.2 132.62,179.5 132.72,183.6 132.82,176.3 132.92,179.3 133.02,187.0 133.12,175.9 133.22,187.2 133.32,172.8 133.42,172.4 133.52,173.2 133.62,164.8 133.72,168.4 133.82,175.2 133.92,178.8 134.02,177.1 134.12,169.7 134.22,173.4 134.32,190.6 134.42,192.5 134.52,179.2 134.62,180.2 134.72,172.5 134.82,180.5 134.92,175.3 135.02,164.6 135.12,174.1 135.22,164.6 135.32,167.3 135.42,164.6 135.52,165.0 135.62,166.7 135.72,164.6 135.82,166.5 135.92,176.6 136.02,168.4 136.12,169.5 136.22,172.3 136.32,170.7 136.42,177.1 136.52,176.0 136.62,175.6 136.72,182.4 136.82,178.7 136.92,170.0 137.02,173.2 137.12,171.9 137.22,177.0 137.32,179.4 137.42,181.9 137.52,174.2 137.62,172.7 137.72,170.4 137.82,168.5 137.92,179.4 138.02,175.7 138.12,180.9 138.22,173.9 138.32,176.5 138.42,185.7 138.52,180.1 138.62,194.3 138.72,180.8 138.82,191.4 138.92,191.3 139.02,183.8 139.12,182.3 139.22,190.3 139.32,176.5 139.42,172.5 139.52,177.9 139.62,182.0 139.72,184.3 139.82,179.0 139.92,193.5 140.02,192.3 140.12,180.4 140.22,183.0 140.32,189.9 140.42,171.4 140.52,193.3 140.62,198.2 140.72,187.5 140.82,172.6 140.92,181.0 141.02,183.5 141.12,183.5 141.22,180.3 141.32,181.1 141.42,177.9 141.52,175.2 141.62,186.8 141.72,174.6 141.82,183.5 141.92,182.3 142.02,184.4 142.12,180.1 142.22,185.8 142.32,178.3 142.42,180.5 142.52,184.6 142.62,185.7 142.72,188.3 142.82,197.7 142.93,190.1 143.03,196.7 143.13,181.3 143.23,192.5 143.33,191.1 143.43,183.6 143.53,183.4 143.63,190.5 143.73,195.4 143.83,189.0 143.93,187.6 144.03,198.2 144.13,185.8 144.23,198.2 144.33,188.8 144.43,194.7 144.53,188.7 144.63,178.7 144.73,175.9 144.83,174.8 144.93,180.2 145.03,186.6 145.13,198.2 145.23,189.2 145.33,182.2 145.43,186.6 145.53,179.2 145.63,182.0 145.73,168.7 145.83,178.4 145.93,182.9 146.03,178.4 146.13,183.2 146.23,173.7 146.33,168.6 146.43,174.1 146.53,176.8 146.63,185.2 146.73,188.5 146.83,183.9 146.93,181.3 147.03,181.9 147.13,177.4 147.23,176.8 147.33,183.8 147.43,175.6 147.53,190.7 147.63,185.7 147.73,191.0 147.83,183.7 147.93,191.0 148.03,191.6 148.13,189.3 148.23,193.1 148.33,196.0 148.43,182.1 148.53,192.9 148.63,178.2 148.73,169.8 148.83,181.8 148.93,174.6 149.03,181.2 149.13,192.4 149.23,178.7 149.33,170.1 149.43,186.1 149.53,183.4 149.63,186.2 149.73,193.5 149.83,183.7 149.93,183.3 150.03,182.3 150.13,185.1 150.23,195.7 150.33,188.6 150.43,185.1 150.53,186.0 150.63,184.3 150.73,186.4 150.83,197.3 150.93,182.6 151.03,197.3 151.13,193.7 151.23,183.1 151.33,185.6 151.43,180.7 151.53,168.8 151.63,182.6 151.73,168.4 151.83,165.0 151.93,171.3 152.03,186.2 152.13,185.0 152.23,175.6 152.33,166.1 152.43,177.3 152.53,178.2 152.63,179.2 152.73,175.1 152.83,170.5 152.93,180.4 153.03,180.8 153.13,180.6 153.23,184.7 153.33,184.6 153.43,192.8 153.53,179.9 153.63,182.0 153.73,179.2 153.83,182.7 153.93,186.2 154.03,175.5 154.13,172.0 154.23,178.7 154.33,184.8 154.43,180.7 154.53,178.0 154.63,182.9 154.73,176.0 154.83,187.0 154.93,178.0 155.03,166.2 155.13,166.1 155.23,170.8 155.33,174.4 155.43,168.4 155.53,176.7 155.63,185.8 155.73,182.0 155.83,188.6 155.93,185.4 156.03,189.0 156.13,181.3 156.23,173.0 156.33,175.9 156.43,185.4 156.53,172.8 156.63,186.6 156.73,176.3 156.83,173.6 156.93,172.7 157.03,180.1 157.13,179.4 157.23,178.7 157.33,181.4 157.43,172.9 157.53,186.3 157.63,188.6 157.73,171.1 157.83,172.1 157.93,188.7 158.03,174.8 158.13,178.3 158.23,184.4 158.33,183.9 158.43,175.5 158.53,179.2 158.63,175.8 158.73,179.7 158.83,169.3 158.93,177.7 159.03,167.7 159.13,169.1 159.23,171.0 159.33,176.6 159.43,174.1 159.53,174.1 159.63,169.5 159.73,177.8 159.83,179.9 159.93,178.3 160.03,177.5 160.13,177.7 160.23,180.5 160.33,186.8 160.43,183.8 160.53,182.3 160.63,175.0 160.73,180.0 160.83,178.5 160.93,184.9 161.03,181.5 161.13,176.1 161.23,182.4 161.33,183.0 161.43,183.0 161.53,181.3 161.63,180.6 161.73,186.4 161.83,177.8 161.93,174.7 162.03,171.5 162.13,180.2 162.23,179.4 162.33,171.2 162.43,173.1 162.53,183.8 162.63,169.2 162.73,179.0 162.83,183.4 162.93,172.8 163.03,176.5 163.13,164.3 163.23,178.0 163.33,176.4 163.43,176.2 163.53,175.8 163.63,176.1 163.73,178.3 163.83,176.5 163.93,173.1 164.03,170.9 164.13,177.0 164.23,167.8 164.33,172.3 164.43,172.3 164.53,173.0 164.63,168.8 164.73,163.3 164.83,163.3 164.93,163.2 165.03,164.1 165.13,169.2 165.23,165.9 165.33,165.0 165.43,165.3 165.53,173.0 165.63,170.5 165.73,177.8 165.83,163.8 165.93,173.5 166.03,180.4 166.13,177.7 166.23,184.6 166.33,184.3 166.43,175.7 166.53,177.2 166.63,185.8 166.73,185.9 166.83,181.7 166.93,163.9 167.03,175.8 167.13,176.7 167.23,180.0 167.33,167.9 167.43,171.7 167.53,183.8 167.63,179.5 167.73,184.6 167.83,180.1 167.93,178.8 168.03,184.2 168.13,182.6 168.23,179.0 168.33,173.1 168.43,176.9 168.53,170.1 168.63,182.6 168.73,167.5 168.83,162.7 168.93,178.5 169.03,174.1 169.13,174.3 169.23,188.0 169.33,172.5 169.43,177.2 169.53,191.2 169.63,183.4 169.73,177.0 169.83,182.7 169.93,188.0 170.03,180.2 170.13,181.7 170.23,177.3 170.33,183.9 170.43,175.6 170.53,178.3 170.63,182.3 170.73,170.4 170.83,175.3 170.93,183.9 171.04,176.3 171.14,171.4 171.24,187.6 171.34,173.9 171.44,169.7 171.54,175.6 171.64,181.0 171.74,168.9 171.84,182.1 171.94,182.4 172.04,186.7 172.14,174.2 172.24,188.4 172.34,180.5 172.44,174.3 172.54,167.9 172.64,168.7 172.74,166.8 172.84,175.4 172.94,176.1 173.04,172.7 173.14,174.1 173.24,172.8 173.34,169.9 173.44,164.5 173.54,161.9 173.64,171.1 173.74,167.3 173.84,168.9 173.94,166.6 174.04,171.7 174.14,166.6 174.24,170.8 174.34,176.8 174.44,162.1 174.54,174.4 174.64,155.3 174.74,164.4 174.84,163.1 174.94,174.1 175.04,161.4 175.14,160.6 175.24,164.5 175.34,160.7 175.44,155.2 175.54,151.7 175.64,169.5 175.74,164.3 175.84,151.0 175.94,159.3 176.04,158.4 176.14,165.2 176.24,160.5 176.34,160.3 176.44,177.1 176.54,173.3 176.64,163.3 176.74,156.1 176.84,167.9 176.94,156.0 177.04,163.9 177.14,160.5 177.24,144.1 177.34,151.0 177.44,143.9 177.54,145.5 177.64,132.9 177.74,152.0 177.84,153.7 177.94,151.3 178.04,145.9 178.14,139.9 178.24,142.6 178.34,151.8 178.44,157.3 178.54,151.3 178.64,157.8 178.74,154.1 178.84,146.2 178.94,150.4 179.04,153.6 179.14,157.5 179.24,161.7 179.34,161.4 179.44,165.0 179.54,164.5 179.64,152.7 179.74,159.3 179.84,165.1 179.94,139.4 180.04,143.1 180.14,150.2 180.24,160.2 180.34,143.9 180.44,151.0 180.54,152.4 180.64,158.8 180.74,160.0 180.84,160.4 180.94,165.6 181.04,167.5 181.14,166.1 181.24,168.0 181.34,166.6 181.44,156.4 181.54,162.7 181.64,174.6 181.74,154.0 181.84,172.4 181.94,160.2 182.04,165.0 182.14,160.2 182.24,167.6 182.34,173.0 182.44,156.2 182.54,184.6 182.64,178.0 182.74,162.7 182.84,169.8 182.94,169.7 183.04,172.3 183.14,177.3 183.24,164.1 183.34,171.3 183.44,165.5 183.54,162.2 183.64,176.1 183.74,172.7 183.84,169.6 183.94,167.7 184.04,164.3 184.14,179.3 184.24,174.2 184.34,170.6 184.44,168.0 184.54,163.0 184.64,173.7 184.74,169.4 184.84,185.8 184.94,175.9 185.04,176.4 185.14,174.9 185.24,179.2 185.34,178.8 185.44,187.2 185.54,182.2 185.64,170.9 185.74,187.0 185.84,190.7 185.94,180.2 186.04,187.6 186.14,179.5 186.24,199.1 186.34,179.4 186.44,196.2 186.54,205.7 186.64,209.5 186.74,204.6 186.84,203.2 186.94,200.9 187.04,207.8 187.14,184.3 187.24,195.6 187.34,198.0 187.44,203.8 187.54,187.1 187.64,208.0 187.74,200.9 187.84,196.1 187.94,206.4 188.04,200.2 188.14,202.8 188.24,189.8 188.34,189.3 188.44,190.9 188.54,193.7 188.64,197.4 188.74,179.5 188.84,179.0 188.94,179.9 189.04,178.0 189.14,182.9 189.24,189.4 189.34,176.5 189.44,183.2 189.54,177.9 189.64,174.6 189.74,183.5 189.84,179.4 189.94,185.3 190.04,191.7 190.14,195.6 190.24,188.5 190.34,191.9 190.44,190.0 190.54,200.9 190.64,186.1 190.74,193.9 190.84,193.9 190.94,179.4 191.04,184.6 191.14,181.0 191.24,187.2 191.34,178.3 191.44,175.3 191.54,178.8 191.64,169.2 191.74,179.3 191.84,172.4 191.94,176.6 192.04,178.5 192.14,181.4 192.24,183.1 192.34,177.5 192.44,183.3 192.54,168.7 192.64,176.3 192.74,174.6 192.84,179.7 192.94,183.9 193.04,171.2 193.14,174.7 193.24,179.4 193.34,171.3 193.44,172.6 193.54,167.2 193.64,169.3 193.74,177.6 193.84,169.1 193.94,175.3 194.04,162.5 194.14,172.4 194.24,176.6 194.34,171.2 194.44,172.2 194.54,174.1 194.64,171.2 194.74,177.2 194.84,180.8 194.94,171.8 195.04,168.6 195.14,167.1 195.24,181.5 195.34,173.3 195.44,170.2 195.54,179.4 195.64,166.6 195.74,176.3 195.84,170.7 195.94,169.8 196.04,162.3 196.14,167.3 196.24,169.8 196.34,171.7 196.44,180.0 196.54,172.1 196.64,171.3 196.74,169.6 196.84,179.3 196.94,164.4 197.04,168.4 197.14,167.8 197.24,175.7 197.34,173.2 197.44,174.5 197.54,167.1 197.64,173.3 197.74,166.0 197.84,167.0 197.94,165.3 198.04,169.2 198.14,179.4 198.24,166.8 198.34,175.7 198.44,168.1 198.54,169.3 198.64,177.7 198.74,177.9 198.84,173.0 198.94,167.9 199.04,167.3 199.14,166.3 199.25,172.3 199.35,168.7 199.45,158.6 199.55,169.8 199.65,160.1 199.75,174.0 199.85,168.7 199.95,162.2 200.05,162.9 200.15,157.5 200.25,164.1 200.35,169.2 200.45,165.6 200.55,164.7 200.65,157.6 200.75,160.2 200.85,156.7 200.95,164.9 201.05,165.8 201.15,168.3 201.25,167.2 201.35,165.2 201.45,159.9 201.55,166.0 201.65,164.3 201.75,166.4 201.85,176.0 201.95,172.7 202.05,165.0 202.15,157.7 202.25,162.1 202.35,171.1 202.45,163.4 202.55,162.1 202.65,160.4 202.75,157.5 202.85,159.9 202.95,162.4 203.05,163.1 203.15,162.2 203.25,161.6 203.35,162.7 203.45,168.4 203.55,170.3 203.65,164.2 203.75,163.4 203.85,163.2 203.95,167.5 204.05,162.3 204.15,153.1 204.25,164.9 204.35,164.9 204.45,159.9 204.55,167.5 204.65,167.4 204.75,163.0 204.85,161.0 204.95,170.1 205.05,161.5 205.15,168.2 205.25,173.7 205.35,163.2 205.45,166.5 205.55,167.5 205.65,169.2 205.75,159.7 205.85,156.6 205.95,156.9 206.05,152.8 206.15,155.7 206.25,163.0 206.35,161.2 206.45,159.4 206.55,160.6 206.65,175.2 206.75,161.3 206.85,154.1 206.95,159.7 207.05,165.1 207.15,152.7 207.25,155.0 207.35,153.3 207.45,156.7 207.55,164.5 207.65,167.1 207.75,159.0 207.85,155.2 207.95,159.5 208.05,166.5 208.15,159.8 208.25,168.7 208.35,158.3 208.45,163.8 208.55,160.5 208.65,161.4 208.75,160.5 208.85,160.5 208.95,171.7 209.05,166.0 209.15,168.4 209.25,170.3 209.35,170.2 209.45,163.8 209.55,172.0 209.65,162.3 209.75,165.1 209.85,168.1 209.95,173.5 210.05,169.1 210.15,168.2 210.25,164.2 210.35,159.5 210.45,160.4 210.55,157.3 210.65,166.2 210.75,160.2 210.85,164.1 210.95,164.0 211.05,162.5 211.15,167.0 211.25,163.2 211.35,165.8 211.45,164.3 211.55,163.6 211.65,157.6 211.75,156.0 211.85,154.5 211.95,152.0 212.05,156.5 212.15,160.3 212.25,159.0 212.35,160.4 212.45,158.5 212.55,156.8 212.65,151.9 212.75,160.4 212.85,161.0 212.95,160.2 213.05,160.2 213.15,158.5 213.25,154.9 213.35,153.1 213.45,159.4 213.55,155.1 213.65,151.7 213.75,154.8 213.85,154.9 213.95,154.3 214.05,155.5 214.15,156.6 214.25,151.7 214.35,159.9 214.45,161.6 214.55,157.1 214.65,162.4 214.75,153.4 214.85,158.5 214.95,159.0 215.05,151.5 215.15,151.5 215.25,151.5 215.35,151.4 215.45,155.1 215.55,155.7 215.65,160.1 215.75,159.2 215.85,153.2 215.95,153.7 216.05,157.7 216.15,160.2 216.25,161.8 216.35,156.8 216.45,166.0 216.55,161.7 216.65,163.7 216.75,165.1 216.85,156.4 216.95,163.1 217.05,158.5 217.15,166.0 217.25,168.2 217.35,163.2 217.45,163.5 217.55,167.0 217.65,166.6 217.75,165.1 217.85,166.4 217.95,165.7 218.05,163.5 218.15,163.7 218.25,165.0 218.35,162.2 218.45,173.1 218.55,158.2 218.65,160.8 218.75,157.8 218.85,162.1 218.95,162.4 219.05,159.1 219.15,167.6 219.25,169.7 219.35,166.7 219.45,158.5 219.55,166.4 219.65,167.0 219.75,172.5 219.85,164.3 219.95,163.7 220.05,173.4 220.15,170.0 220.25,166.3 220.35,162.3 220.45,158.2 220.55,154.3 220.65,165.1 220.75,164.1 220.85,167.9 220.95,163.6 221.05,168.2 221.15,164.3 221.25,162.5 221.35,164.1 221.45,163.4 221.55,161.5 221.65,161.2 221.75,160.0 221.85,159.9 221.95,158.7 222.05,155.2 222.15,164.3 222.25,159.9 222.35,159.6 222.45,154.1 222.55,161.8 222.65,163.9 222.75,163.2 222.85,160.2 222.95,159.2 223.05,162.8 223.15,166.2 223.25,159.9 223.35,169.0 223.45,174.5 223.55,174.5 223.65,174.5 223.75,170.9 223.85,174.3 223.95,166.6 224.05,171.6 224.15,168.1 224.25,172.4 224.35,165.4 224.45,167.7 224.55,173.6 224.65,163.3 224.75,174.5 224.85,171.4 224.95,174.4 225.05,165.2 225.15,165.2 225.25,168.1 225.35,174.2 225.45,161.3 225.55,159.4 225.65,168.3 225.75,163.9 225.85,163.3 225.95,164.2 226.05,170.5 226.15,167.5 226.25,169.2 226.35,162.3 226.45,169.6 226.55,161.1 226.65,165.9 226.75,174.4 226.85,174.4 226.95,164.5 227.05,161.4 227.15,162.7 227.25,152.8 227.36,163.5 227.46,171.0 227.56,164.3 227.66,169.1 227.76,174.4 227.86,165.1 227.96,171.7 228.06,169.0 228.16,158.7 228.26,171.0 228.36,172.1 228.46,166.7 228.56,163.6 228.66,174.3 228.76,172.1 228.86,169.0 228.96,163.3 229.06,164.4 229.16,160.7 229.26,171.7 229.36,168.4 229.46,159.1 229.56,173.0 229.66,158.6 229.76,163.9 229.86,160.1 229.96,164.6 230.06,157.8 230.16,155.4 230.26,156.5 230.36,152.8 230.46,161.6 230.56,155.6 230.66,166.3 230.76,156.4 230.86,158.7 230.96,165.1 231.06,157.9 231.16,167.4 231.26,172.4 231.36,169.8 231.46,161.4 231.56,167.6 231.66,165.8 231.76,160.2 231.86,163.8 231.96,163.7 232.06,167.5 232.16,164.5 232.26,159.9 232.36,165.9 232.46,162.8 232.56,157.6 232.66,165.2 232.76,156.6 232.86,158.9 232.96,158.1 233.06,161.7 233.16,162.6 233.26,154.4 233.36,163.4 233.46,157.2 233.56,158.5 233.66,163.6 233.76,174.1 233.86,170.7 233.96,163.8 234.06,160.3 234.16,170.8 234.26,165.1 234.36,163.5 234.46,170.9 234.56,166.7 234.66,168.4 234.76,174.1 234.86,159.0 234.96,168.8 235.06,168.5 235.16,165.8 235.26,152.8 235.36,156.3 235.46,160.7 235.56,166.1 235.66,162.1 235.76,163.7 235.86,161.5 235.96,167.7 236.06,158.1 236.16,154.8 236.26,163.3 236.36,164.7 236.46,158.4 236.56,165.0 236.66,163.7 236.76,165.4 236.86,156.5 236.96,166.9 237.06,162.0 237.16,154.0 237.26,164.4 237.36,155.4 237.46,159.4 237.56,157.3 237.66,160.4 237.76,154.9 237.86,173.2 237.96,161.8 238.06,169.2 238.16,163.8 238.26,165.2 238.36,164.8 238.46,160.5 238.56,165.1 238.66,166.1 238.76,162.3 238.86,165.8 238.96,159.0 239.06,163.7 239.16,163.3 239.26,156.1 239.36,162.4 239.46,165.5 239.56,166.5 239.66,171.5 239.76,172.7 239.86,162.6 239.96,171.7 240.06,172.0 240.16,167.3 240.26,168.2 240.36,172.8 240.46,169.3 240.56,169.5 240.66,163.0 240.76,169.9 240.86,167.6 240.96,162.2 241.06,163.6 241.16,165.9 241.26,166.8 241.36,161.3 241.46,168.0 241.56,165.7 241.66,152.9 241.76,162.3 241.86,164.0 241.96,151.1 242.06,156.5 242.16,158.1 242.26,160.5 242.36,168.8 242.46,160.0 242.56,166.0 242.66,159.5 242.76,159.4 242.86,169.4 242.96,158.8 243.06,160.7 243.16,152.2 243.26,159.4 243.36,167.5 243.46,168.1 243.56,158.8 243.66,164.5 243.76,160.1 243.86,165.6 243.96,166.1 244.06,170.2 244.16,157.6 244.26,154.9 244.36,163.6 244.46,158.2 244.56,162.7 244.66,160.1 244.76,162.6 244.86,163.9 244.96,156.3 245.06,166.5 245.16,149.4 245.26,161.6 245.36,163.0 245.46,157.1 245.56,166.0 245.66,159.4 245.76,168.5 245.86,155.0 245.96,156.4 246.06,167.0 246.16,156.4 246.26,164.4 246.36,162.3 246.46,162.1 246.56,155.4 246.66,152.2 246.76,154.2 246.86,156.0 246.96,157.7 247.06,156.3 247.16,166.2 247.26,165.4 247.36,166.7 247.46,159.9 247.56,162.1 247.66,165.8 247.76,166.0 247.86,153.5 247.96,168.2 248.06,163.4 248.16,169.0 248.26,158.7 248.36,156.9 248.46,158.0 248.56,159.0 248.66,166.8 248.76,167.1 248.86,158.0 248.96,163.0 249.06,170.7 249.16,163.5 249.26,167.4 249.36,166.1 249.46,159.6 249.56,162.4 249.66,165.7 249.76,165.7 249.86,169.2 249.96,161.6 250.06,162.9 250.16,161.7 250.26,150.9 250.36,160.8 250.46,157.6 250.56,158.4 250.66,154.9 250.76,151.5 250.86,147.3 250.96,165.5 251.06,147.3 251.16,153.2 251.26,156.9 251.36,160.2 251.46,166.1 251.56,164.5 251.66,158.3 251.76,156.0 251.86,161.4 251.96,157.2 252.06,167.0 252.16,164.9 252.26,156.5 252.36,156.1 252.46,154.1 252.56,151.5 252.66,156.5 252.76,165.5 252.86,157.0 252.96,153.8 253.06,158.5 253.16,151.5 253.26,154.0 253.36,161.6 253.46,152.7 253.56,156.7 253.66,165.2 253.76,154.7 253.86,167.1 253.96,156.7 254.06,155.4 254.16,160.2 254.26,159.2 254.36,150.5 254.46,151.9 254.56,144.5 254.66,153.7 254.76,154.4 254.86,158.4 254.96,154.0 255.06,161.3 255.16,163.2 255.26,148.8 255.36,149.7 255.46,152.9 255.57,143.9 255.67,158.0 255.77,156.9 255.87,151.7 255.97,155.6 256.07,160.2 256.17,158.2 256.27,164.0 256.37,172.4 256.47,171.6 256.57,161.7 256.67,163.8 256.77,170.6 256.87,161.8 256.97,155.8 257.07,154.0 257.17,153.8 257.27,158.5 257.37,159.8 257.47,163.0 257.57,160.3 257.67,168.8 257.77,168.3 257.87,156.4 257.97,158.1 258.07,161.1 258.17,158.4 258.27,169.3 258.37,166.7 258.47,164.1 258.57,156.0 258.67,165.9 258.77,163.0 258.87,164.3 258.97,156.0 259.07,168.3 259.17,153.6 259.27,162.5 259.37,172.0 259.47,158.1 259.57,156.4 259.67,157.4 259.77,161.1 259.87,166.2 259.97,164.3 260.07,160.0 260.17,163.8 260.27,148.5 260.37,166.4 260.47,158.4 260.57,161.2 260.67,166.6 260.77,153.4 260.87,161.5 260.97,168.3 261.07,171.5 261.17,167.0 261.27,153.1 261.37,162.3 261.47,164.4 261.57,157.5 261.67,163.2 261.77,159.4 261.87,161.7 261.97,155.6 262.07,156.8 262.17,153.9 262.27,163.0 262.37,158.1 262.47,152.9 262.57,169.0 262.67,156.6 262.77,163.8 262.87,159.9 262.97,158.1 263.07,155.3 263.17,162.1 263.27,164.6 263.37,169.5 263.47,154.6 263.57,166.6 263.67,151.2 263.77,153.6 263.87,155.6 263.97,162.6 264.07,154.1 264.17,159.6 264.27,150.9 264.37,160.7 264.47,155.4 264.57,159.3 264.67,162.3 264.77,155.0 264.87,148.2 264.97,155.5 265.07,151.2 265.17,156.1 265.27,158.0 265.37,167.8 265.47,165.9 265.57,164.6 265.67,158.6 265.77,172.1 265.87,172.1 265.97,161.5 266.07,154.0 266.17,156.3 266.27,156.7 266.37,155.7 266.47,150.4 266.57,151.3 266.67,157.5 266.77,150.9 266.87,162.3 266.97,165.7 267.07,159.2 267.17,153.2 267.27,157.8 267.37,171.9 267.47,151.7 267.57,146.1 267.67,155.3 267.77,157.7 267.87,159.1 267.97,161.5 268.07,144.8 268.17,152.2 268.27,153.5 268.37,149.8 268.47,148.7 268.57,150.2 268.67,157.0 268.77,156.8 268.87,159.8 268.97,163.9 269.07,168.9 269.17,158.0 269.27,154.7 269.37,153.3 269.47,146.5 269.57,150.3 269.67,154.0 269.77,156.1 269.87,161.0 269.97,146.0 270.07,141.4 270.17,155.5 270.27,153.5 270.37,160.3 270.47,152.8 270.57,151.1 270.67,157.1 270.77,143.2 270.87,152.2 270.97,145.5 271.07,138.6 271.17,157.1 271.27,145.3 271.37,149.4 271.47,142.2 271.57,148.5 271.67,148.0 271.77,147.6 271.87,140.2 271.97,152.9 272.07,154.5 272.17,153.3 272.27,142.4 272.37,158.1 272.47,154.7 272.57,148.8 272.67,154.6 272.77,148.7 272.87,155.6 272.97,166.7 273.07,139.5 273.17,149.3 273.27,159.0 273.37,157.6 273.47,159.3 273.57,165.4 273.67,160.1 273.77,152.4 273.87,149.6 273.97,143.7 274.07,148.8 274.17,153.6 274.27,148.1 274.37,147.1 274.47,153.4 274.57,147.6 274.67,142.8 274.77,152.2 274.87,146.2 274.97,151.6 275.07,137.8 275.17,132.3 275.27,150.7 275.37,142.7 275.47,135.3 275.57,138.1 275.67,137.5 275.77,147.6 275.87,150.2 275.97,142.2 276.07,136.9 276.17,135.1 276.27,130.9 276.37,148.3 276.47,140.7 276.57,142.8 276.67,133.3 276.77,150.2 276.87,136.8 276.97,151.3 277.07,140.3 277.17,150.2 277.27,149.2 277.37,140.2 277.47,142.5 277.57,137.5 277.67,143.1 277.77,149.0 277.87,138.5 277.97,142.1 278.07,147.6 278.17,148.8 278.27,159.3 278.37,154.4 278.47,143.0 278.57,148.1 278.67,147.6 278.77,141.8 278.87,150.7 278.97,151.7 279.07,145.5 279.17,148.3 279.27,141.6 279.37,147.6 279.47,143.5 279.57,143.6 279.67,145.3 279.77,144.6 279.87,144.3 279.97,142.8 280.07,153.0 280.17,156.3 280.27,153.4 280.37,151.6 280.47,157.3 280.57,154.9 280.67,154.5 280.77,158.8 280.87,164.4 280.97,166.7 281.07,164.4 281.17,167.2 281.27,155.9 281.37,166.2 281.47,158.7 281.57,162.9 281.67,163.4 281.77,149.0 281.87,164.5 281.97,149.3 282.07,167.1 282.17,157.8 282.27,156.3 282.37,159.2 282.47,160.9 282.57,166.4 282.67,161.9 282.77,154.7 282.87,160.3 282.97,154.1 283.07,159.9 283.17,165.6 283.27,171.2 283.37,174.3 283.47,168.5 283.57,174.6 283.68,175.0 283.78,174.6 283.88,164.1 283.98,149.1 284.08,164.8 284.18,172.9 284.28,171.3 284.38,162.0 284.48,169.9 284.58,171.5 284.68,164.6 284.78,165.6 284.88,167.6 284.98,158.0 285.08,169.4 285.18,162.4 285.28,149.1 285.38,175.6 285.48,149.8 285.58,171.2 285.68,156.4 285.78,170.6 285.88,161.0 285.98,162.6 286.08,160.1 286.18,163.9 286.28,149.1 286.38,155.6 286.48,172.0 286.58,174.0 286.68,168.7 286.78,171.9 286.88,152.9 286.98,158.0 287.08,160.6 287.18,174.5 287.28,170.9 287.38,162.0 287.48,173.3 287.58,165.4 287.68,164.3 287.78,162.2 287.88,166.1 287.98,164.8 288.08,170.0 288.18,159.5 288.28,166.5 288.38,155.4 288.48,169.0 288.58,159.8 288.68,158.6 288.78,159.0 288.88,168.3 288.98,167.7 289.08,156.1 289.18,153.4 289.28,154.9 289.38,150.6 289.48,156.3 289.58,153.2 289.68,154.2 289.78,155.4 289.88,150.0 289.98,152.8 290.08,158.1 290.18,150.4 290.28,152.2 290.38,155.9 290.48,135.8 290.58,162.8 290.68,148.9 290.78,146.4 290.88,153.1 290.98,158.4 291.08,150.4 291.18,146.4 291.28,145.5 291.38,149.1 291.48,148.5 291.58,149.9 291.68,141.4 291.78,148.0 291.88,151.2 291.98,144.9 292.08,159.6 292.18,155.7 292.28,159.3 292.38,164.0 292.48,152.0 292.58,163.9 292.68,160.1 292.78,163.8 292.88,152.7 292.98,154.1 293.08,142.4 293.18,138.8 293.28,137.9 293.38,145.1 293.48,145.5 293.58,148.4 293.68,151.4 293.78,137.7 293.88,155.4 293.98,138.5 294.08,130.9 294.18,138.6 294.28,125.2 294.38,140.9 294.48,137.9 294.58,131.2 294.68,123.6 294.78,146.4 294.88,136.0 294.98,139.7 295.08,136.0 295.18,139.7 295.28,157.2 295.38,152.2 295.48,139.4 295.58,143.8 295.68,146.5 295.78,141.9 295.88,140.8 295.98,142.5 296.08,163.6 296.18,147.6 296.28,136.6 296.38,148.4 296.48,146.1 296.58,146.5 296.68,140.5 296.78,144.1 296.88,147.9 296.98,151.1 297.08,138.4 297.18,136.6 297.28,144.8 297.38,151.5 297.48,150.6 297.58,145.4 297.68,150.1 297.78,145.1 297.88,141.5 297.98,157.1 298.08,142.7 298.18,154.0 298.28,155.3 298.38,156.6 298.48,152.2 298.58,154.4 298.68,152.7 298.78,164.5 298.88,161.9 298.98,153.9 299.08,163.5 299.18,160.5 299.28,157.9 299.38,157.5 299.48,157.6 299.58,170.0 299.68,162.5 299.78,167.0 299.88,159.4 299.98,165.4 300.08,161.2 300.18,146.5 300.28,159.1 300.38,150.0 300.48,150.1 300.58,156.7 300.68,154.6 300.78,150.8 300.88,141.7 300.98,150.9 301.08,151.4 301.18,143.1 301.28,145.6 301.38,147.5 301.48,142.2 301.58,145.1 301.68,136.4 301.78,137.2 301.88,141.6 301.98,151.9 302.08,138.8 302.18,150.1 302.28,148.2 302.38,145.1 302.48,145.0 302.58,141.9 302.68,136.5 302.78,140.9 302.88,146.1 302.98,144.0 303.08,145.5 303.18,139.2 303.28,135.9 303.38,143.0 303.48,146.1 303.58,143.0 303.68,135.9 303.78,152.1 303.88,138.8 303.98,146.3 304.08,151.0 304.18,151.0 304.28,153.1 304.38,154.0 304.48,143.2 304.58,171.4 304.68,160.3 304.78,159.9 304.88,163.9 304.98,159.4 305.08,158.7 305.18,158.8 305.28,156.2 305.38,152.9 305.48,161.4 305.58,169.6 305.68,168.3 305.78,157.1 305.88,163.3 305.98,162.9 306.08,158.4 306.18,157.0 306.28,161.7 306.38,156.6 306.48,148.6 306.58,143.6 306.68,151.6 306.78,164.6 306.88,160.4 306.98,161.8 307.08,150.3 307.18,143.3 307.28,147.6 307.38,147.4 307.48,136.1 307.58,155.3 307.68,139.0 307.78,148.8 307.88,151.4 307.98,152.7 308.08,154.6 308.18,139.7 308.28,145.6 308.38,138.4 308.48,156.9 308.58,143.2 308.68,147.0 308.78,146.9 308.88,155.9 308.98,145.0 309.08,152.7 309.18,150.2 309.28,144.7 309.38,147.4 309.48,148.4 309.58,151.6 309.68,145.1 309.78,158.4 309.88,160.7 309.98,161.5 310.08,169.0 310.18,138.6 310.28,136.3 310.38,148.6 310.48,150.5 310.58,157.9 310.68,149.8 310.78,146.3 310.88,157.7 310.98,148.9 311.08,159.8 311.18,153.7 311.28,147.0 311.38,149.2 311.48,153.5 311.58,152.8 311.68,144.1 311.79,155.9 311.89,165.9 311.99,150.9 312.09,162.4 312.19,150.2 312.29,154.5 312.39,146.4 312.49,144.0 312.59,158.7 312.69,154.4 312.79,145.9 312.89,157.1 312.99,153.0 313.09,142.6 313.19,160.4 313.29,150.8 313.39,136.5 313.49,154.4 313.59,139.0 313.69,162.0 313.79,163.4 313.89,146.7 313.99,150.7 314.09,152.4 314.19,152.9 314.29,146.5 314.39,138.2 314.49,152.6 314.59,149.0 314.69,143.3 314.79,152.6 314.89,142.8 314.99,156.2 315.09,143.0 315.19,151.2 315.29,156.2 315.39,152.0 315.49,140.7 315.59,153.0 315.69,147.3 315.79,153.9 315.89,154.0 315.99,137.7 316.09,144.5 316.19,142.4 316.29,141.8 316.39,150.2 316.49,142.4 316.59,155.5 316.69,146.7 316.79,146.9 316.89,142.0 316.99,150.3 317.09,139.0 317.19,135.6 317.29,140.8 317.39,146.8 317.49,148.3 317.59,147.1 317.69,139.2 317.79,141.5 317.89,152.1 317.99,135.2 318.09,135.9 318.19,138.0 318.29,148.8 318.39,147.3 318.49,148.3 318.59,145.2 318.69,142.1 318.79,158.0 318.89,143.3 318.99,141.8 319.09,130.2 319.19,146.9 319.29,141.9 319.39,138.3 319.49,150.8 319.59,123.2 319.69,144.8 319.79,139.2 319.89,139.3 319.99,135.1 320.09,129.7 320.19,138.9 320.29,126.0 320.39,136.9 320.49,136.2 320.59,123.1 320.69,131.2 320.79,111.9 320.89,116.5 320.99,115.3 321.09,116.9 321.19,130.3 321.29,109.2 321.39,110.0 321.49,125.8 321.59,126.3 321.69,143.2 321.79,120.8 321.89,129.2 321.99,134.4 322.09,139.8 322.19,137.3 322.29,135.8 322.39,132.9 322.49,138.1 322.59,139.4 322.69,125.9 322.79,124.4 322.89,155.6 322.99,140.7 323.09,151.1 323.19,155.9 323.29,143.0 323.39,167.7 323.49,149.6 323.59,168.5 323.69,154.4 323.79,160.8 323.89,157.8 323.99,150.6 324.09,158.6 324.19,136.1 324.29,157.2 324.39,160.4 324.49,155.2 324.59,156.1 324.69,146.7 324.79,153.1 324.89,158.5 324.99,153.9 325.09,157.0 325.19,153.4 325.29,150.4 325.39,161.7 325.49,167.6 325.59,159.6 325.69,171.2 325.79,161.6 325.89,157.0 325.99,161.5 326.09,153.7 326.19,160.6 326.29,151.6 326.39,162.6 326.49,168.4 326.59,175.8 326.69,171.9 326.79,168.1 326.89,180.4 326.99,178.8 327.09,177.2 327.19,171.3 327.29,173.6 327.39,176.8 327.49,175.8 327.59,171.6 327.69,168.2 327.79,178.6 327.89,183.7 327.99,173.2 328.09,157.4 328.19,172.5 328.29,171.7 328.39,165.8 328.49,179.3 328.59,170.1 328.69,176.2 328.79,183.0 328.89,173.0 328.99,169.8 329.09,164.9 329.19,166.5 329.29,172.6 329.39,161.8 329.49,163.3 329.59,158.5 329.69,170.4 329.79,168.0 329.89,169.8 329.99,166.8 330.09,158.7 330.19,158.2 330.29,169.5 330.39,181.3 330.49,171.8 330.59,166.6 330.69,163.2 330.79,156.6 330.89,159.8 330.99,164.4 331.09,159.2 331.19,172.4 331.29,174.6 331.39,165.9 331.49,173.2 331.59,170.9 331.69,171.5 331.79,171.1 331.89,178.1 331.99,172.6 332.09,178.0 332.19,170.4 332.29,167.5 332.39,170.3 332.49,155.5 332.59,167.2 332.69,157.2 332.79,172.4 332.89,161.0 332.99,170.9 333.09,169.9 333.19,170.0 333.29,167.0 333.39,161.0 333.49,164.4 333.59,147.5 333.69,159.0 333.79,171.1 333.89,168.7 333.99,166.1 334.09,164.4 334.19,161.7 334.29,166.9 334.39,150.7 334.49,159.1 334.59,164.8 334.69,164.9 334.79,164.7 334.89,173.3 334.99,172.2 335.09,165.2 335.19,173.1 335.29,173.7 335.39,179.4 335.49,170.2 335.59,175.9 335.69,169.6 335.79,168.2 335.89,168.8 335.99,160.4 336.09,162.0 336.19,164.6 336.29,151.4 336.39,150.9 336.49,146.4 336.59,153.3 336.69,152.4 336.79,149.4 336.89,158.1 336.99,158.1 337.09,154.2 337.19,163.4 337.29,154.3 337.39,150.2 337.49,160.6 337.59,151.5 337.69,160.3 337.79,150.0 337.89,149.6 337.99,156.9 338.09,157.9 338.19,165.0 338.29,171.9 338.39,168.7 338.49,164.1 338.59,153.3 338.69,164.6 338.79,154.7 338.89,145.0 338.99,147.9 339.09,148.7 339.19,156.8 339.29,169.0 339.39,150.5 339.49,147.0 339.59,157.0 339.69,157.9 339.79,151.0 339.89,159.2 340.00,147.8 340.10,150.9 340.20,144.9 340.30,151.0 340.40,159.2 340.50,162.1 340.60,148.5 340.70,162.9 340.80,152.4 340.90,157.9 341.00,158.1 341.10,169.2 341.20,156.8 341.30,156.3 341.40,149.6 341.50,160.6 341.60,160.7 341.70,163.8 341.80,160.6 341.90,162.0 342.00,169.3 342.10,164.3 342.20,166.5 342.30,162.1 342.40,161.8 342.50,167.8 342.60,173.0 342.70,175.1 342.80,168.5 342.90,180.3 343.00,179.8 343.10,168.3 343.20,166.8 343.30,163.1 343.40,161.4 343.50,160.5 343.60,162.5 343.70,161.9 343.80,162.1 343.90,163.8 344.00,151.7 344.10,154.5 344.20,157.8 344.30,158.3 344.40,149.7 344.50,144.3 344.60,152.0 344.70,145.5 344.80,154.0 344.90,153.6 345.00,144.3 345.10,150.0 345.20,155.2 345.30,144.2 345.40,155.6 345.50,150.3 345.60,145.6 345.70,155.5 345.80,156.3 345.90,144.4 346.00,144.1 346.10,150.7 346.20,164.5 346.30,156.6 346.40,155.4 346.50,172.6 346.60,165.7 346.70,168.2 346.80,170.2 346.90,155.6 347.00,164.7 347.10,153.0 347.20,158.1 347.30,163.1 347.40,161.4 347.50,160.5 347.60,150.2 347.70,154.2 347.80,156.9 347.90,151.8 348.00,163.6 348.10,160.5 348.20,162.8 348.30,160.5 348.40,147.2 348.50,158.2 348.60,156.1 348.70,151.0 348.80,155.1 348.90,146.3 349.00,143.8 349.10,143.8 349.20,143.7 349.30,143.7 349.40,143.7 349.50,156.3 349.60,153.4 349.70,150.8 349.80,156.6 349.90,159.7 350.00,158.1 350.10,159.4 350.20,166.4 350.30,159.6 350.40,161.4 350.50,163.8 350.60,157.2 350.70,156.9 350.80,152.9 350.90,166.3 351.00,156.4 351.10,150.7 351.20,162.3 351.30,161.6 351.40,161.6 351.50,162.2 351.60,158.3 351.70,153.9 351.80,156.2 351.90,149.9 352.00,161.0 352.10,156.3 352.20,148.3 352.30,146.2 352.40,146.3 352.50,146.5 352.60,146.6 352.70,161.1 352.80,157.0 352.90,160.2 353.00,159.4 353.10,160.3 353.20,156.2 353.30,167.5 353.40,177.4 353.50,174.1 353.60,162.7 353.70,161.4 353.80,170.8 353.90,164.3 354.00,168.2" fill="none" stroke="#000" stroke-width="1.0"/>
<rect x="72.25" y="5" width="288.85" height="231.6" fill="none" stroke="#000" stroke-width="2"/>
<line x1="72.4" y1="124" x2="72.4" y2="193" stroke="#a00000" stroke-width="2"/>
<line x1="69" y1="236.4" x2="72" y2="236.4" stroke="#000" stroke-width="1.6"/>
<line x1="67" y1="215.4" x2="72" y2="215.4" stroke="#000" stroke-width="1.6"/>
<text x="64.6" y="218.4" text-anchor="end" font-size="11.8" font-weight="bold" font-family="Liberation Sans, sans-serif">0.00</text>
<line x1="69" y1="194.4" x2="72" y2="194.4" stroke="#000" stroke-width="1.6"/>
<line x1="67" y1="173.4" x2="72" y2="173.4" stroke="#000" stroke-width="1.6"/>
<text x="64.6" y="176.4" text-anchor="end" font-size="11.8" font-weight="bold" font-family="Liberation Sans, sans-serif">0.05</text>
<line x1="69" y1="152.4" x2="72" y2="152.4" stroke="#000" stroke-width="1.6"/>
<line x1="67" y1="131.4" x2="72" y2="131.4" stroke="#000" stroke-width="1.6"/>
<text x="64.6" y="134.4" text-anchor="end" font-size="11.8" font-weight="bold" font-family="Liberation Sans, sans-serif">0.10</text>
<line x1="69" y1="110.4" x2="72" y2="110.4" stroke="#000" stroke-width="1.6"/>
<line x1="67" y1="89.4" x2="72" y2="89.4" stroke="#000" stroke-width="1.6"/>
<text x="64.6" y="92.4" text-anchor="end" font-size="11.8" font-weight="bold" font-family="Liberation Sans, sans-serif">0.15</text>
<line x1="69" y1="68.4" x2="72" y2="68.4" stroke="#000" stroke-width="1.6"/>
<line x1="67" y1="47.4" x2="72" y2="47.4" stroke="#000" stroke-width="1.6"/>
<text x="64.6" y="50.4" text-anchor="end" font-size="11.8" font-weight="bold" font-family="Liberation Sans, sans-serif">0.20</text>
<line x1="69" y1="26.4" x2="72" y2="26.4" stroke="#000" stroke-width="1.6"/>
<line x1="67" y1="5.4" x2="72" y2="5.4" stroke="#000" stroke-width="1.6"/>
<text x="64.6" y="8.4" text-anchor="end" font-size="11.8" font-weight="bold" font-family="Liberation Sans, sans-serif">0.25</text>
<line x1="72.2" y1="236.5" x2="72.2" y2="239.5" stroke="#000" stroke-width="1.6"/>
<line x1="101.2" y1="236.5" x2="101.2" y2="241.5" stroke="#000" stroke-width="1.6"/>
<text x="101.2" y="253.5" text-anchor="middle" font-size="12" font-weight="bold" font-family="Liberation Sans, sans-serif">6</text>
<line x1="130.1" y1="236.5" x2="130.1" y2="239.5" stroke="#000" stroke-width="1.6"/>
<line x1="159.1" y1="236.5" x2="159.1" y2="241.5" stroke="#000" stroke-width="1.6"/>
<text x="159.1" y="253.5" text-anchor="middle" font-size="12" font-weight="bold" font-family="Liberation Sans, sans-serif">8</text>
<line x1="188.0" y1="236.5" x2="188.0" y2="239.5" stroke="#000" stroke-width="1.6"/>
<line x1="216.9" y1="236.5" x2="216.9" y2="241.5" stroke="#000" stroke-width="1.6"/>
<text x="216.9" y="253.5" text-anchor="middle" font-size="12" font-weight="bold" font-family="Liberation Sans, sans-serif">10</text>
<line x1="245.9" y1="236.5" x2="245.9" y2="239.5" stroke="#000" stroke-width="1.6"/>
<line x1="274.9" y1="236.5" x2="274.9" y2="241.5" stroke="#000" stroke-width="1.6"/>
<text x="274.9" y="253.5" text-anchor="middle" font-size="12" font-weight="bold" font-family="Liberation Sans, sans-serif">12</text>
<line x1="303.8" y1="236.5" x2="303.8" y2="239.5" stroke="#000" stroke-width="1.6"/>
<line x1="332.8" y1="236.5" x2="332.8" y2="241.5" stroke="#000" stroke-width="1.6"/>
<text x="332.8" y="253.5" text-anchor="middle" font-size="12" font-weight="bold" font-family="Liberation Sans, sans-serif">14</text>
<line x1="361.7" y1="236.5" x2="361.7" y2="239.5" stroke="#000" stroke-width="1.6"/>
<text x="164.6" y="275" font-size="11.6" font-weight="bold" textLength="76.3" lengthAdjust="spacingAndGlyphs" font-family="Liberation Sans, sans-serif">Displacement</text>
<text x="244.6" y="275.3" font-size="12.2" font-weight="bold" textLength="24.4" lengthAdjust="spacingAndGlyphs" font-family="Liberation Serif, serif">(&#956;m)</text>
<text transform="translate(32.4,190.7) rotate(-90)" font-size="11.5" font-weight="bold" textLength="113.5" lengthAdjust="spacingAndGlyphs" font-family="Liberation Sans, sans-serif">coefficient of friction</text>
<rect x="102.6" y="34.8" width="72" height="29.8" fill="#fff" stroke="#333" stroke-width="1.1"/>
<line x1="109" y1="43.7" x2="134.6" y2="43.7" stroke="#666" stroke-width="1.2"/>
<line x1="109" y1="57.3" x2="134.6" y2="57.3" stroke="#f33" stroke-width="1.2"/>
<text x="138.6" y="47.3" font-size="11" font-weight="bold" font-family="Liberation Sans, sans-serif">TLMG</text>
<text x="138.6" y="61.7" font-size="11" font-weight="bold" font-family="Liberation Sans, sans-serif">BMG</text>
<text x="-1.1" y="36.2" font-size="28.5" font-family="Liberation Sans, sans-serif">(a)</text>
<polyline points="446.5,44 449,98 447.5,60 456.5,146.5 460.7,45.7 466.4,121 472,109 477.5,129.4 480,70 486,144.4 505.4,137.2 506.6,142 515.1,108.1 516.8,117.8 524.8,134.8 540.5,129.9 542.9,171 561,159 580.4,160.2 585.2,110.6 593.7,144.4 600,149.4 623.6,161.8 637,149.4 652.8,172.3 670.7,178.6 682.6,145.6 692,158.4 698.8,161.1 706.7,196.6 727.6,176.8 742,183.5" fill="none" stroke="#000" stroke-width="2" stroke-linejoin="miter" stroke-miterlimit="3"/>
<polyline points="446.4,17.3 453,44.2 448,44.2 453.5,60.7 458.1,85.6 460.5,86 468,100 473.2,105.5 482.5,125.2 477.3,132.5 479.9,132.5 486.1,144.4 504.2,148 506.6,154 515.1,161.4 516.3,165 526,166.2 540.5,164.5 543.4,169.8 562.3,171 581.6,174.7 586.5,179.5 593.7,183.2 624.7,183.5 638.2,184.7 652.8,183.8 674.1,188 692,197 698.8,194.8 706.7,196.6 725.8,193.6 742,195" fill="none" stroke="#0000ff" stroke-width="2" stroke-miterlimit="3"/>
<polyline points="446.7,92.6 452.4,93.6 453,91.6 450.4,96.7 448.3,108.6 456,113.8 457.6,129.4 460.7,134.6 465.4,134.6 466.4,141.8 471,150 480,157.7 482,159 482,165 480,169.8 481,172.3 513.9,180.7 540.5,188 562.3,190.4 581.6,191.6 586.5,194 600,192.8 629.2,197.7 653.9,200.4 671.9,200.4 682,202.6 692,200 698.8,204 716.8,205.5 742,205.1" fill="none" stroke="#ff00ff" stroke-width="2" stroke-miterlimit="3"/>
<polyline points="446.5,208 451,207.5 453,203 448,200.3 451.5,205 457.7,218 460.7,207.5 465.9,211.1 467.6,209.8 471.9,209.8 479.3,213.2 476.2,220.6 482.3,217.6 479.3,215 481.9,212 485.7,216.3 493,216.3 513.9,215.8 516.3,217 539.3,212.2 542.4,217 576.8,218.2 586.5,215.8 600,216.3 622.5,216.3 637,219.5 652.8,217.2 670.7,221.3 694.3,218.6 705.5,216.3 716.8,217.2 742,219" fill="none" stroke="#ff0000" stroke-width="2" stroke-miterlimit="3"/>
<line x1="446.1" y1="13.8" x2="446.1" y2="261.6" stroke="#000" stroke-width="2.9"/>
<line x1="743.6" y1="13.8" x2="743.6" y2="261.6" stroke="#000" stroke-width="2.8"/>
<line x1="444.7" y1="15.1" x2="745" y2="15.1" stroke="#000" stroke-width="2.6"/>
<line x1="444.7" y1="260.6" x2="745" y2="260.6" stroke="#000" stroke-width="2.1"/>
<line x1="440.4" y1="248.8" x2="445" y2="248.8" stroke="#000" stroke-width="2.2"/>
<text x="437.8" y="252.0" text-anchor="end" font-size="12.5" font-weight="bold" font-family="Liberation Sans, sans-serif">0.0</text>
<line x1="442.5" y1="225.4" x2="445" y2="225.4" stroke="#000" stroke-width="2.2"/>
<line x1="440.4" y1="202.0" x2="445" y2="202.0" stroke="#000" stroke-width="2.2"/>
<text x="437.8" y="205.2" text-anchor="end" font-size="12.5" font-weight="bold" font-family="Liberation Sans, sans-serif">0.2</text>
<line x1="442.5" y1="178.5" x2="445" y2="178.5" stroke="#000" stroke-width="2.2"/>
<line x1="440.4" y1="155.1" x2="445" y2="155.1" stroke="#000" stroke-width="2.2"/>
<text x="437.8" y="158.3" text-anchor="end" font-size="12.5" font-weight="bold" font-family="Liberation Sans, sans-serif">0.4</text>
<line x1="442.5" y1="131.7" x2="445" y2="131.7" stroke="#000" stroke-width="2.2"/>
<line x1="440.4" y1="108.3" x2="445" y2="108.3" stroke="#000" stroke-width="2.2"/>
<text x="437.8" y="111.5" text-anchor="end" font-size="12.5" font-weight="bold" font-family="Liberation Sans, sans-serif">0.6</text>
<line x1="442.5" y1="84.9" x2="445" y2="84.9" stroke="#000" stroke-width="2.2"/>
<line x1="440.4" y1="61.4" x2="445" y2="61.4" stroke="#000" stroke-width="2.2"/>
<text x="437.8" y="64.6" text-anchor="end" font-size="12.5" font-weight="bold" font-family="Liberation Sans, sans-serif">0.8</text>
<line x1="442.5" y1="38.0" x2="445" y2="38.0" stroke="#000" stroke-width="2.2"/>
<line x1="440.4" y1="14.6" x2="445" y2="14.6" stroke="#000" stroke-width="2.2"/>
<text x="437.8" y="17.8" text-anchor="end" font-size="12.5" font-weight="bold" font-family="Liberation Sans, sans-serif">1.0</text>
<line x1="446.1" y1="260" x2="446.1" y2="265.9" stroke="#000" stroke-width="2"/>
<text x="446.1" y="277.1" text-anchor="middle" font-size="10" font-weight="bold" font-family="Liberation Sans, sans-serif">1</text>
<line x1="462.6" y1="260" x2="462.6" y2="263.5" stroke="#000" stroke-width="2"/>
<line x1="479.1" y1="260" x2="479.1" y2="265.9" stroke="#000" stroke-width="2"/>
<text x="479.1" y="277.1" text-anchor="middle" font-size="10" font-weight="bold" font-family="Liberation Sans, sans-serif">2</text>
<line x1="495.6" y1="260" x2="495.6" y2="263.5" stroke="#000" stroke-width="2"/>
<line x1="512.1" y1="260" x2="512.1" y2="265.9" stroke="#000" stroke-width="2"/>
<text x="512.1" y="277.1" text-anchor="middle" font-size="10" font-weight="bold" font-family="Liberation Sans, sans-serif">3</text>
<line x1="528.6" y1="260" x2="528.6" y2="263.5" stroke="#000" stroke-width="2"/>
<line x1="545.1" y1="260" x2="545.1" y2="265.9" stroke="#000" stroke-width="2"/>
<text x="545.1" y="277.1" text-anchor="middle" font-size="10" font-weight="bold" font-family="Liberation Sans, sans-serif">4</text>
<line x1="561.6" y1="260" x2="561.6" y2="263.5" stroke="#000" stroke-width="2"/>
<line x1="578.1" y1="260" x2="578.1" y2="265.9" stroke="#000" stroke-width="2"/>
<text x="578.1" y="277.1" text-anchor="middle" font-size="10" font-weight="bold" font-family="Liberation Sans, sans-serif">5</text>
<line x1="594.6" y1="260" x2="594.6" y2="263.5" stroke="#000" stroke-width="2"/>
<line x1="611.1" y1="260" x2="611.1" y2="265.9" stroke="#000" stroke-width="2"/>
<text x="611.1" y="277.1" text-anchor="middle" font-size="10" font-weight="bold" font-family="Liberation Sans, sans-serif">6</text>
<line x1="627.6" y1="260" x2="627.6" y2="263.5" stroke="#000" stroke-width="2"/>
<line x1="644.1" y1="260" x2="644.1" y2="265.9" stroke="#000" stroke-width="2"/>
<text x="644.1" y="277.1" text-anchor="middle" font-size="10" font-weight="bold" font-family="Liberation Sans, sans-serif">7</text>
<line x1="660.6" y1="260" x2="660.6" y2="263.5" stroke="#000" stroke-width="2"/>
<line x1="677.1" y1="260" x2="677.1" y2="265.9" stroke="#000" stroke-width="2"/>
<text x="677.1" y="277.1" text-anchor="middle" font-size="10" font-weight="bold" font-family="Liberation Sans, sans-serif">8</text>
<line x1="693.6" y1="260" x2="693.6" y2="263.5" stroke="#000" stroke-width="2"/>
<line x1="710.1" y1="260" x2="710.1" y2="265.9" stroke="#000" stroke-width="2"/>
<text x="710.1" y="277.1" text-anchor="middle" font-size="10" font-weight="bold" font-family="Liberation Sans, sans-serif">9</text>
<line x1="726.6" y1="260" x2="726.6" y2="263.5" stroke="#000" stroke-width="2"/>
<line x1="743.1" y1="260" x2="743.1" y2="265.9" stroke="#000" stroke-width="2"/>
<text x="743.1" y="277.1" text-anchor="middle" font-size="10" font-weight="bold" font-family="Liberation Sans, sans-serif">10</text>
<text x="539" y="300.3" font-size="12.3" font-weight="bold" font-family="Liberation Sans, sans-serif">Displacement (&#956;m)</text>
<text transform="translate(411.2,194.6) rotate(-90)" font-size="12.5" font-weight="bold" font-family="Liberation Sans, sans-serif"><tspan textLength="93" lengthAdjust="spacingAndGlyphs">Friction force</tspan><tspan font-family="Liberation Serif, serif" font-weight="normal" font-size="13.5">(&#956;N)</tspan></text>
<line x1="565" y1="45.4" x2="593" y2="45.4" stroke="#000" stroke-width="2"/>
<text x="600" y="49.8" font-size="12" font-family="Liberation Sans, sans-serif">0 min</text>
<line x1="561" y1="61.4" x2="590.4" y2="61.4" stroke="#00f" stroke-width="2"/>
<text x="597" y="65.8" font-size="12" font-family="Liberation Sans, sans-serif">10 min</text>
<line x1="561" y1="77.4" x2="590.4" y2="77.4" stroke="#f0f" stroke-width="2"/>
<text x="597" y="81.80000000000001" font-size="12" font-family="Liberation Sans, sans-serif">30 min</text>
<line x1="561" y1="93.2" x2="590.4" y2="93.2" stroke="#f00" stroke-width="2"/>
<text x="597" y="97.60000000000001" font-size="12" font-family="Liberation Sans, sans-serif">60 min</text>
<text x="370.3" y="36.5" font-size="28.5" font-family="Liberation Sans, sans-serif">(b)</text>
<rect x="101.3" y="312.2" width="275.7" height="228.8" fill="none" stroke="#000" stroke-width="2"/>
<line x1="98" y1="540.8" x2="101" y2="540.8" stroke="#000" stroke-width="1.6"/>
<line x1="96" y1="515.4" x2="101" y2="515.4" stroke="#000" stroke-width="1.6"/>
<text x="93" y="518.0" text-anchor="end" font-size="9.4" font-weight="bold" textLength="22.6" lengthAdjust="spacingAndGlyphs" font-family="Liberation Sans, sans-serif">0.003</text>
<line x1="98" y1="490.0" x2="101" y2="490.0" stroke="#000" stroke-width="1.6"/>
<line x1="96" y1="464.6" x2="101" y2="464.6" stroke="#000" stroke-width="1.6"/>
<text x="93" y="467.2" text-anchor="end" font-size="9.4" font-weight="bold" textLength="22.6" lengthAdjust="spacingAndGlyphs" font-family="Liberation Sans, sans-serif">0.004</text>
<line x1="98" y1="439.2" x2="101" y2="439.2" stroke="#000" stroke-width="1.6"/>
<line x1="96" y1="413.8" x2="101" y2="413.8" stroke="#000" stroke-width="1.6"/>
<text x="93" y="416.4" text-anchor="end" font-size="9.4" font-weight="bold" textLength="22.6" lengthAdjust="spacingAndGlyphs" font-family="Liberation Sans, sans-serif">0.005</text>
<line x1="98" y1="388.4" x2="101" y2="388.4" stroke="#000" stroke-width="1.6"/>
<line x1="96" y1="363.0" x2="101" y2="363.0" stroke="#000" stroke-width="1.6"/>
<text x="93" y="365.6" text-anchor="end" font-size="9.4" font-weight="bold" textLength="22.6" lengthAdjust="spacingAndGlyphs" font-family="Liberation Sans, sans-serif">0.006</text>
<line x1="98" y1="337.6" x2="101" y2="337.6" stroke="#000" stroke-width="1.6"/>
<line x1="96" y1="312.2" x2="101" y2="312.2" stroke="#000" stroke-width="1.6"/>
<text x="93" y="314.8" text-anchor="end" font-size="9.4" font-weight="bold" textLength="22.6" lengthAdjust="spacingAndGlyphs" font-family="Liberation Sans, sans-serif">0.007</text>
<line x1="100.4" y1="541" x2="100.4" y2="543.5" stroke="#000" stroke-width="1.6"/>
<line x1="113.6" y1="541" x2="113.6" y2="545.5" stroke="#000" stroke-width="1.6"/>
<text x="113.6" y="556.1" text-anchor="middle" font-size="9.6" font-weight="bold" font-family="Liberation Sans, sans-serif">1</text>
<line x1="126.8" y1="541" x2="126.8" y2="543.5" stroke="#000" stroke-width="1.6"/>
<line x1="140.0" y1="541" x2="140.0" y2="545.5" stroke="#000" stroke-width="1.6"/>
<text x="140.0" y="556.1" text-anchor="middle" font-size="9.6" font-weight="bold" font-family="Liberation Sans, sans-serif">2</text>
<line x1="153.2" y1="541" x2="153.2" y2="543.5" stroke="#000" stroke-width="1.6"/>
<line x1="166.4" y1="541" x2="166.4" y2="545.5" stroke="#000" stroke-width="1.6"/>
<text x="166.4" y="556.1" text-anchor="middle" font-size="9.6" font-weight="bold" font-family="Liberation Sans, sans-serif">3</text>
<line x1="179.6" y1="541" x2="179.6" y2="543.5" stroke="#000" stroke-width="1.6"/>
<line x1="192.7" y1="541" x2="192.7" y2="545.5" stroke="#000" stroke-width="1.6"/>
<text x="192.7" y="556.1" text-anchor="middle" font-size="9.6" font-weight="bold" font-family="Liberation Sans, sans-serif">4</text>
<line x1="205.9" y1="541" x2="205.9" y2="543.5" stroke="#000" stroke-width="1.6"/>
<line x1="219.1" y1="541" x2="219.1" y2="545.5" stroke="#000" stroke-width="1.6"/>
<text x="219.1" y="556.1" text-anchor="middle" font-size="9.6" font-weight="bold" font-family="Liberation Sans, sans-serif">5</text>
<line x1="232.3" y1="541" x2="232.3" y2="543.5" stroke="#000" stroke-width="1.6"/>
<line x1="245.5" y1="541" x2="245.5" y2="545.5" stroke="#000" stroke-width="1.6"/>
<text x="245.5" y="556.1" text-anchor="middle" font-size="9.6" font-weight="bold" font-family="Liberation Sans, sans-serif">6</text>
<line x1="258.7" y1="541" x2="258.7" y2="543.5" stroke="#000" stroke-width="1.6"/>
<line x1="271.9" y1="541" x2="271.9" y2="545.5" stroke="#000" stroke-width="1.6"/>
<text x="271.9" y="556.1" text-anchor="middle" font-size="9.6" font-weight="bold" font-family="Liberation Sans, sans-serif">7</text>
<line x1="285.1" y1="541" x2="285.1" y2="543.5" stroke="#000" stroke-width="1.6"/>
<line x1="298.3" y1="541" x2="298.3" y2="545.5" stroke="#000" stroke-width="1.6"/>
<text x="298.3" y="556.1" text-anchor="middle" font-size="9.6" font-weight="bold" font-family="Liberation Sans, sans-serif">8</text>
<line x1="311.4" y1="541" x2="311.4" y2="543.5" stroke="#000" stroke-width="1.6"/>
<line x1="324.6" y1="541" x2="324.6" y2="545.5" stroke="#000" stroke-width="1.6"/>
<text x="324.6" y="556.1" text-anchor="middle" font-size="9.6" font-weight="bold" font-family="Liberation Sans, sans-serif">9</text>
<line x1="337.8" y1="541" x2="337.8" y2="543.5" stroke="#000" stroke-width="1.6"/>
<line x1="351.0" y1="541" x2="351.0" y2="545.5" stroke="#000" stroke-width="1.6"/>
<text x="351.0" y="556.1" text-anchor="middle" font-size="9.6" font-weight="bold" font-family="Liberation Sans, sans-serif">10</text>
<line x1="364.2" y1="541" x2="364.2" y2="543.5" stroke="#000" stroke-width="1.6"/>
<line x1="377.4" y1="541" x2="377.4" y2="545.5" stroke="#000" stroke-width="1.6"/>
<text x="377.4" y="556.1" text-anchor="middle" font-size="9.6" font-weight="bold" font-family="Liberation Sans, sans-serif">11</text>
<text x="176.2" y="575.9" font-size="11.6" font-weight="bold" textLength="125.8" lengthAdjust="spacingAndGlyphs" font-family="Liberation Sans, sans-serif">Number of scan cycles</text>
<text transform="translate(62.4,498.1) rotate(-90)" font-size="12.1" font-weight="bold" textLength="118.4" lengthAdjust="spacingAndGlyphs" font-family="Liberation Sans, sans-serif">coefficient of friction</text>
<rect x="194.6" y="312.8" width="73.2" height="62.4" fill="#fff" stroke="#333" stroke-width="1"/>
<line x1="101" y1="312.2" x2="377" y2="312.2" stroke="#000" stroke-width="2"/>
<rect x="210.1" y="320.7" width="4.6" height="4.6" fill="#000"/>
<circle cx="212.4" cy="338.0" r="2.8" fill="#f00"/>
<polygon points="209.2,355.5 215.6,355.5 212.4,349.8" fill="#00ff00"/>
<polygon points="209.1,365.6 215.7,365.6 212.4,370.6" fill="#0000ff"/>
<text x="225.4" y="326.8" font-size="11" font-weight="bold" textLength="30" lengthAdjust="spacingAndGlyphs" font-family="Liberation Sans, sans-serif">0 min</text>
<text x="225.4" y="341.8" font-size="11" font-weight="bold" textLength="36" lengthAdjust="spacingAndGlyphs" font-family="Liberation Sans, sans-serif">60 min</text>
<text x="225.4" y="356.8" font-size="11" font-weight="bold" textLength="36" lengthAdjust="spacingAndGlyphs" font-family="Liberation Sans, sans-serif">10 min</text>
<text x="225.4" y="371.8" font-size="11" font-weight="bold" textLength="36" lengthAdjust="spacingAndGlyphs" font-family="Liberation Sans, sans-serif">30 min</text>
<rect x="111.3" y="425.1" width="4.6" height="4.6" fill="#000"/>
<circle cx="113.6" cy="459.0" r="2.8" fill="#f00"/>
<polygon points="110.3,453.6 116.9,453.6 113.6,458.6" fill="#0000ff"/>
<polygon points="110.4,439.1 116.8,439.1 113.6,433.4" fill="#00ff00"/>
<rect x="137.7" y="416.3" width="4.6" height="4.6" fill="#000"/>
<circle cx="140.0" cy="454.4" r="2.8" fill="#f00"/>
<polygon points="136.7,440.2 143.3,440.2 140.0,445.2" fill="#0000ff"/>
<polygon points="136.8,431.7 143.2,431.7 140.0,426.0" fill="#00ff00"/>
<rect x="164.1" y="411.7" width="4.6" height="4.6" fill="#000"/>
<circle cx="166.4" cy="440.0" r="2.8" fill="#f00"/>
<polygon points="163.1,440.2 169.7,440.2 166.4,445.2" fill="#0000ff"/>
<polygon points="163.2,423.7 169.6,423.7 166.4,418.0" fill="#00ff00"/>
<rect x="190.4" y="397.7" width="4.6" height="4.6" fill="#000"/>
<circle cx="192.7" cy="442.2" r="2.8" fill="#f00"/>
<polygon points="189.4,428.6 196.0,428.6 192.7,433.6" fill="#0000ff"/>
<polygon points="189.5,423.1 195.9,423.1 192.7,417.4" fill="#00ff00"/>
<rect x="216.8" y="398.9" width="4.6" height="4.6" fill="#000"/>
<circle cx="219.1" cy="431.0" r="2.8" fill="#f00"/>
<polygon points="215.8,416.6 222.4,416.6 219.1,421.6" fill="#0000ff"/>
<polygon points="215.9,413.1 222.3,413.1 219.1,407.4" fill="#00ff00"/>
<rect x="243.2" y="394.4" width="4.6" height="4.6" fill="#000"/>
<circle cx="245.5" cy="429.0" r="2.8" fill="#f00"/>
<polygon points="242.2,417.1 248.8,417.1 245.5,422.1" fill="#0000ff"/>
<polygon points="242.3,412.0 248.7,412.0 245.5,406.3" fill="#00ff00"/>
<rect x="269.6" y="397.3" width="4.6" height="4.6" fill="#000"/>
<circle cx="271.9" cy="429.8" r="2.8" fill="#f00"/>
<polygon points="268.6,406.6 275.2,406.6 271.9,411.6" fill="#0000ff"/>
<polygon points="268.7,396.9 275.1,396.9 271.9,391.2" fill="#00ff00"/>
<rect x="322.3" y="396.3" width="4.6" height="4.6" fill="#000"/>
<circle cx="324.6" cy="426.6" r="2.8" fill="#f00"/>
<polygon points="321.3,419.0 327.9,419.0 324.6,424.0" fill="#0000ff"/>
<polygon points="321.4,398.3 327.8,398.3 324.6,392.6" fill="#00ff00"/>
<rect x="348.7" y="386.3" width="4.6" height="4.6" fill="#000"/>
<circle cx="351.0" cy="434.2" r="2.8" fill="#f00"/>
<polygon points="347.7,425.2 354.3,425.2 351.0,430.2" fill="#0000ff"/>
<polygon points="347.8,397.7 354.2,397.7 351.0,392.0" fill="#00ff00"/>
<text x="22.3" y="325.9" font-size="28.5" font-family="Liberation Sans, sans-serif">(c)</text>
<rect x="470" y="339.4" width="28" height="193.6" fill="#008080"/>
<rect x="498" y="352" width="29" height="181.0" fill="#808000"/>
<rect x="541" y="381" width="27" height="152.0" fill="#008080"/>
<rect x="568" y="410" width="29" height="123.0" fill="#808000"/>
<rect x="611" y="404" width="28" height="129.0" fill="#008080"/>
<rect x="639" y="439" width="28" height="94.0" fill="#808000"/>
<rect x="681" y="436.1" width="28" height="96.9" fill="#008080"/>
<rect x="709" y="468.3" width="28" height="64.7" fill="#808000"/>
<path d="M481.5,327.4H487.5M484.5,327.4V351.4M481.5,351.4H487.5" stroke="#ff2a2a" stroke-width="1" fill="none"/>
<path d="M509.5,345.6H515.5M512.5,345.6V358.4M509.5,358.4H515.5" stroke="#ff2a2a" stroke-width="1" fill="none"/>
<path d="M551.5,366.4H557.5M554.5,366.4V395.6M551.5,395.6H557.5" stroke="#ff2a2a" stroke-width="1" fill="none"/>
<path d="M579.5,402.4H585.5M582.5,402.4V418.4M579.5,418.4H585.5" stroke="#ff2a2a" stroke-width="1" fill="none"/>
<path d="M622.5,394H628.5M625.5,394V414.4M622.5,414.4H628.5" stroke="#ff2a2a" stroke-width="1" fill="none"/>
<path d="M650.5,434.4H656.5M653.5,434.4V444.4M650.5,444.4H656.5" stroke="#ff2a2a" stroke-width="1" fill="none"/>
<path d="M692.5,428.7H698.5M695.5,428.7V443.8M692.5,443.8H698.5" stroke="#ff2a2a" stroke-width="1" fill="none"/>
<path d="M720.5,457.2H726.5M723.5,457.2V480.2M720.5,480.2H726.5" stroke="#ff2a2a" stroke-width="1" fill="none"/>
<rect x="464.6" y="307.4" width="280" height="225.6" fill="none" stroke="#000" stroke-width="2.1"/>
<line x1="458.4" y1="533.0" x2="464" y2="533.0" stroke="#000" stroke-width="1.6"/>
<text x="455.7" y="535.9" text-anchor="end" font-size="11.7" font-weight="bold" font-family="Liberation Sans, sans-serif">0.00</text>
<line x1="460.7" y1="516.9" x2="464" y2="516.9" stroke="#000" stroke-width="1.6"/>
<line x1="458.4" y1="500.8" x2="464" y2="500.8" stroke="#000" stroke-width="1.6"/>
<text x="455.7" y="503.7" text-anchor="end" font-size="11.7" font-weight="bold" font-family="Liberation Sans, sans-serif">0.01</text>
<line x1="460.7" y1="484.7" x2="464" y2="484.7" stroke="#000" stroke-width="1.6"/>
<line x1="458.4" y1="468.5" x2="464" y2="468.5" stroke="#000" stroke-width="1.6"/>
<text x="455.7" y="471.4" text-anchor="end" font-size="11.7" font-weight="bold" font-family="Liberation Sans, sans-serif">0.02</text>
<line x1="460.7" y1="452.4" x2="464" y2="452.4" stroke="#000" stroke-width="1.6"/>
<line x1="458.4" y1="436.3" x2="464" y2="436.3" stroke="#000" stroke-width="1.6"/>
<text x="455.7" y="439.2" text-anchor="end" font-size="11.7" font-weight="bold" font-family="Liberation Sans, sans-serif">0.03</text>
<line x1="460.7" y1="420.2" x2="464" y2="420.2" stroke="#000" stroke-width="1.6"/>
<line x1="458.4" y1="404.1" x2="464" y2="404.1" stroke="#000" stroke-width="1.6"/>
<text x="455.7" y="407.0" text-anchor="end" font-size="11.7" font-weight="bold" font-family="Liberation Sans, sans-serif">0.04</text>
<line x1="460.7" y1="388.0" x2="464" y2="388.0" stroke="#000" stroke-width="1.6"/>
<line x1="458.4" y1="371.9" x2="464" y2="371.9" stroke="#000" stroke-width="1.6"/>
<text x="455.7" y="374.8" text-anchor="end" font-size="11.7" font-weight="bold" font-family="Liberation Sans, sans-serif">0.05</text>
<line x1="460.7" y1="355.7" x2="464" y2="355.7" stroke="#000" stroke-width="1.6"/>
<line x1="458.4" y1="339.6" x2="464" y2="339.6" stroke="#000" stroke-width="1.6"/>
<text x="455.7" y="342.5" text-anchor="end" font-size="11.7" font-weight="bold" font-family="Liberation Sans, sans-serif">0.06</text>
<line x1="460.7" y1="323.5" x2="464" y2="323.5" stroke="#000" stroke-width="1.6"/>
<line x1="458.4" y1="307.4" x2="464" y2="307.4" stroke="#000" stroke-width="1.6"/>
<text x="455.7" y="310.3" text-anchor="end" font-size="11.7" font-weight="bold" font-family="Liberation Sans, sans-serif">0.07</text>
<text x="472.5" y="550" font-size="11.6" font-weight="bold" textLength="40" lengthAdjust="spacingAndGlyphs" font-family="Liberation Sans, sans-serif">as-cast</text>
<text x="549.1" y="550" font-size="11.6" font-weight="bold" textLength="36.8" lengthAdjust="spacingAndGlyphs" font-family="Liberation Sans, sans-serif">10 min</text>
<text x="620.3" y="550" font-size="11.6" font-weight="bold" textLength="37.5" lengthAdjust="spacingAndGlyphs" font-family="Liberation Sans, sans-serif">30 min</text>
<text x="693.3" y="550" font-size="11.6" font-weight="bold" textLength="37.2" lengthAdjust="spacingAndGlyphs" font-family="Liberation Sans, sans-serif">10 min</text>
<text x="539.6" y="565" font-size="11.6" font-weight="bold" textLength="115" lengthAdjust="spacingAndGlyphs" font-family="Liberation Sans, sans-serif">Annealing time (min)</text>
<text transform="translate(423.8,439.6) rotate(-90)" font-size="11" font-weight="bold" textLength="23.7" lengthAdjust="spacingAndGlyphs" font-family="Liberation Sans, sans-serif">COF</text>
<rect x="641.8" y="332" width="74.4" height="31.8" fill="#fff" stroke="#333" stroke-width="1"/>
<rect x="643.7" y="334" width="26.6" height="12.8" fill="#008080"/>
<rect x="643.7" y="349.9" width="26.6" height="13.1" fill="#808000"/>
<text x="673.3" y="344.4" font-size="11.5" font-weight="bold" textLength="24.6" lengthAdjust="spacingAndGlyphs" font-family="Liberation Serif, serif">4 &#956;N</text>
<text x="673.3" y="359.9" font-size="11.8" font-weight="bold" textLength="36.3" lengthAdjust="spacingAndGlyphs" font-family="Liberation Serif, serif">0.9 &#956;N</text>
<text x="399.9" y="325.6" font-size="28.5" font-family="Liberation Sans, sans-serif">(d)</text>
</svg>
</body></html>
